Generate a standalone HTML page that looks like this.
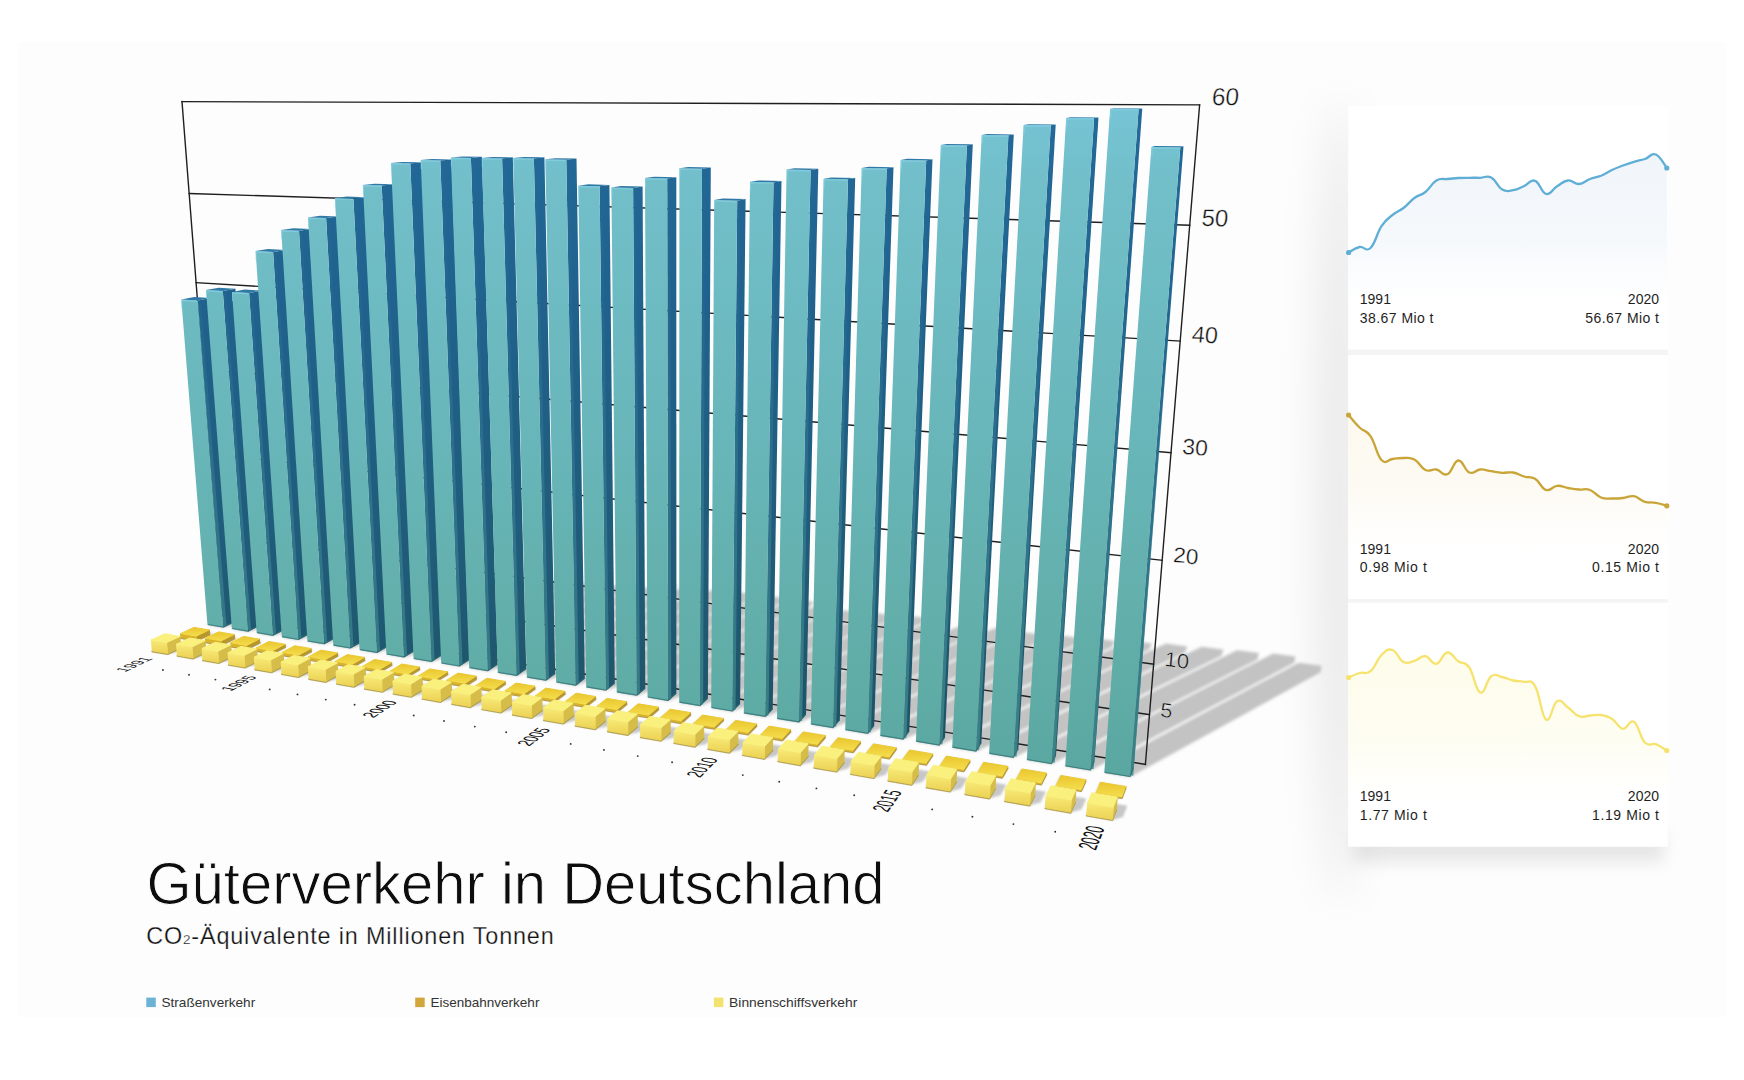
<!DOCTYPE html>
<html><head><meta charset="utf-8"><title>Güterverkehr in Deutschland</title>
<style>html,body{margin:0;padding:0;background:#fff}body{width:1744px;height:1080px;overflow:hidden;font-family:"Liberation Sans",sans-serif}svg{display:block;font-family:"Liberation Sans",sans-serif}</style>
</head><body>
<svg width="1744" height="1080" viewBox="0 0 1744 1080">
<defs>
<linearGradient id="gf" gradientUnits="userSpaceOnUse" x1="0" y1="100" x2="0" y2="780">
<stop offset="0" stop-color="#76c4d6"/><stop offset="0.12" stop-color="#72bfca"/><stop offset="0.5" stop-color="#68b6b9"/><stop offset="0.85" stop-color="#60aca6"/><stop offset="1" stop-color="#5aa6a0"/></linearGradient>
<linearGradient id="gs" gradientUnits="userSpaceOnUse" x1="0" y1="100" x2="0" y2="780">
<stop offset="0" stop-color="#23699a"/><stop offset="0.3" stop-color="#20628d"/><stop offset="0.65" stop-color="#205c7a"/><stop offset="0.85" stop-color="#1f566c"/><stop offset="1" stop-color="#1d5062"/></linearGradient>
<filter id="bl" x="-5%" y="-5%" width="110%" height="110%"><feGaussianBlur stdDeviation="1.6"/></filter>
<filter id="bl2" x="-20%" y="-20%" width="140%" height="140%"><feGaussianBlur stdDeviation="1.2"/></filter>
<filter id="cs" x="-10%" y="-10%" width="120%" height="120%"><feGaussianBlur stdDeviation="5"/></filter>
<filter id="cs3" x="-10%" y="-60%" width="120%" height="220%"><feGaussianBlur stdDeviation="8"/></filter>
<filter id="cs2" filterUnits="userSpaceOnUse" x="1180" y="0" width="320" height="1080"><feGaussianBlur stdDeviation="20"/></filter>
<linearGradient id="ge" gradientUnits="userSpaceOnUse" x1="0" y1="100" x2="0" y2="780">
<stop offset="0" stop-color="#3f8fb0" stop-opacity="0"/><stop offset="0.3" stop-color="#3f8fb0" stop-opacity="0.08"/><stop offset="0.6" stop-color="#3f8c9c" stop-opacity="0.45"/><stop offset="1" stop-color="#418c8c" stop-opacity="0.85"/></linearGradient>
<radialGradient id="bg" gradientUnits="userSpaceOnUse" cx="700" cy="520" r="900">
<stop offset="0" stop-color="#ffffff"/><stop offset="0.6" stop-color="#fdfdfd"/><stop offset="0.85" stop-color="#f6f6f6"/><stop offset="1" stop-color="#f0f0f0"/></radialGradient>
<linearGradient id="a1" x1="0" y1="0" x2="0" y2="1"><stop offset="0" stop-color="#f0f5fa"/><stop offset="0.6" stop-color="#f6f9fc"/><stop offset="1" stop-color="#ffffff"/></linearGradient>
<linearGradient id="a2" x1="0" y1="0" x2="0" y2="1"><stop offset="0" stop-color="#fdf9ef"/><stop offset="0.5" stop-color="#fdfaf3"/><stop offset="1" stop-color="#ffffff"/></linearGradient>
<linearGradient id="a3" x1="0" y1="0" x2="0" y2="1"><stop offset="0" stop-color="#fefcea"/><stop offset="0.6" stop-color="#fefdf2"/><stop offset="1" stop-color="#ffffff"/></linearGradient>
<linearGradient id="yb" x1="0" y1="0" x2="0" y2="1"><stop offset="0" stop-color="#f8ea78"/><stop offset="1" stop-color="#ecd254"/></linearGradient>
<linearGradient id="yt" x1="0" y1="0" x2="0" y2="1"><stop offset="0" stop-color="#e9c62f"/><stop offset="1" stop-color="#f5dd4c"/></linearGradient>
</defs>
<rect x="0" y="0" width="1744" height="1080" fill="#ffffff"/>
<rect x="17" y="42" width="1710" height="975" fill="#fdfdfd"/>
<ellipse cx="1340" cy="500" rx="24" ry="400" fill="#000" fill-opacity="0.08" filter="url(#cs2)"/>
<rect x="1354" y="832" width="310" height="30" fill="#000" fill-opacity="0.09" filter="url(#cs3)"/>
<rect x="1348.2" y="105.5" width="319.6" height="741" fill="#f4f4f4"/>
<g filter="url(#bl)"><polygon points="207.5,625.0 223.3,627.6 408.4,580.3 417.5,575.6 402.3,573.4 219.4,619.5" fill="#c3c3c3"/><polygon points="231.9,629.0 247.9,631.7 437.6,582.2 446.5,577.5 431.1,575.4 243.7,623.4" fill="#c3c3c3"/><polygon points="256.7,633.1 272.9,635.8 461.6,585.7 470.3,580.9 454.7,578.7 268.3,627.4" fill="#c3c3c3"/><polygon points="281.8,637.2 298.3,640.0 505.7,583.8 514.0,579.1 498.3,576.9 293.3,631.5" fill="#c3c3c3"/><polygon points="307.4,641.5 324.1,644.2 540.4,584.5 548.4,579.8 532.5,577.6 318.6,635.6" fill="#c3c3c3"/><polygon points="333.3,645.7 350.3,648.5 571.3,586.3 579.0,581.5 562.9,579.3 344.4,639.8" fill="#c3c3c3"/><polygon points="359.6,650.1 376.9,652.9 605.2,587.3 612.6,582.5 596.3,580.3 370.5,644.0" fill="#c3c3c3"/><polygon points="386.4,654.5 403.9,657.4 636.5,589.2 643.7,584.3 627.2,582.1 397.1,648.3" fill="#c3c3c3"/><polygon points="413.6,659.0 431.4,661.9 671.4,590.0 678.3,585.1 661.6,582.9 424.1,652.7" fill="#c3c3c3"/><polygon points="441.2,663.5 459.3,666.5 699.0,593.1 705.7,588.2 688.8,585.9 451.5,657.2" fill="#c3c3c3"/><polygon points="469.2,668.1 487.7,671.2 726.8,596.3 733.2,591.3 716.1,589.0 479.3,661.7" fill="#c3c3c3"/><polygon points="497.8,672.8 516.5,675.9 753.8,599.9 760.0,594.8 742.6,592.5 507.6,666.3" fill="#c3c3c3"/><polygon points="526.8,677.6 545.8,680.7 781.4,603.5 787.4,598.4 769.7,596.0 536.4,671.0" fill="#c3c3c3"/><polygon points="556.2,682.5 575.6,685.7 808.9,607.3 814.6,602.1 796.8,599.7 565.6,675.7" fill="#c3c3c3"/><polygon points="586.2,687.4 605.9,690.6 827.9,614.2 833.5,608.9 815.3,606.5 595.3,680.5" fill="#c3c3c3"/><polygon points="616.7,692.4 636.7,695.7 856.2,618.3 861.6,612.8 843.2,610.3 625.5,685.4" fill="#c3c3c3"/><polygon points="647.6,697.5 668.0,700.9 888.9,620.9 894.0,615.4 875.3,612.9 656.2,690.4" fill="#c3c3c3"/><polygon points="679.2,702.7 699.9,706.1 921.9,623.6 926.7,618.1 907.7,615.5 687.4,695.5" fill="#c3c3c3"/><polygon points="711.2,708.0 732.3,711.5 941.6,631.5 946.3,625.8 927.0,623.2 719.2,700.7" fill="#c3c3c3"/><polygon points="743.8,713.4 765.3,716.9 978.3,633.2 982.7,627.5 963.1,624.9 751.5,705.9" fill="#c3c3c3"/><polygon points="777.0,718.9 798.9,722.4 1013.3,635.7 1017.3,629.9 997.4,627.3 784.4,711.3" fill="#c3c3c3"/><polygon points="810.8,724.4 833.0,728.1 1042.0,641.0 1045.8,635.1 1025.6,632.4 817.8,716.7" fill="#c3c3c3"/><polygon points="845.2,730.1 867.8,733.8 1077.3,643.8 1080.7,637.9 1060.2,635.2 851.9,722.2" fill="#c3c3c3"/><polygon points="880.2,735.9 903.2,739.6 1112.0,647.1 1115.1,641.0 1094.4,638.3 886.5,727.9" fill="#c3c3c3"/><polygon points="915.9,741.7 939.3,745.6 1149.1,649.5 1151.8,643.4 1130.8,640.6 921.8,733.6" fill="#c3c3c3"/><polygon points="952.2,747.7 976.0,751.6 1185.1,652.6 1187.4,646.4 1166.1,643.6 957.7,739.4" fill="#c3c3c3"/><polygon points="989.1,753.8 1013.5,757.8 1221.4,655.8 1223.4,649.5 1201.7,646.7 994.3,745.4" fill="#c3c3c3"/><polygon points="1026.8,760.0 1051.6,764.1 1257.4,659.4 1258.9,653.1 1237.0,650.2 1031.5,751.4" fill="#c3c3c3"/><polygon points="1065.2,766.3 1090.5,770.5 1294.2,662.8 1295.4,656.4 1273.2,653.5 1069.5,757.6" fill="#c3c3c3"/><polygon points="1104.3,772.8 1130.1,777.0 1320.6,672.3 1321.6,665.7 1298.8,662.7 1108.1,763.9" fill="#c3c3c3"/></g>
<g filter="url(#bl2)"><polygon points="151.5,651.0 167.3,653.8 179.6,651.7 193.7,645.0 178.1,642.3 166.0,644.3" fill="#9a9a9a" fill-opacity="0.55"/><polygon points="180.1,637.7 195.7,640.3 199.7,639.7 213.4,633.2 198.0,630.6 194.0,631.3" fill="#9a9a9a" fill-opacity="0.55"/><polygon points="176.6,655.4 192.6,658.2 205.0,656.1 219.0,649.3 203.1,646.5 190.9,648.6" fill="#9a9a9a" fill-opacity="0.55"/><polygon points="204.9,641.9 220.7,644.6 224.3,644.0 237.8,637.4 222.1,634.8 218.5,635.4" fill="#9a9a9a" fill-opacity="0.55"/><polygon points="202.1,659.9 218.4,662.7 230.8,660.6 244.6,653.6 228.5,650.9 216.2,652.9" fill="#9a9a9a" fill-opacity="0.55"/><polygon points="230.0,646.2 246.1,648.9 249.3,648.4 262.6,641.7 246.7,639.0 243.5,639.6" fill="#9a9a9a" fill-opacity="0.55"/><polygon points="228.0,664.4 244.6,667.3 257.3,665.1 270.9,658.1 254.4,655.2 242.0,657.4" fill="#9a9a9a" fill-opacity="0.55"/><polygon points="255.5,650.5 271.8,653.3 274.2,652.9 287.3,646.1 271.2,643.4 268.8,643.8" fill="#9a9a9a" fill-opacity="0.55"/><polygon points="254.4,669.1 271.2,672.0 284.0,669.7 297.3,662.6 280.7,659.7 268.1,661.9" fill="#9a9a9a" fill-opacity="0.55"/><polygon points="281.5,654.9 298.0,657.8 300.4,657.3 313.3,650.5 296.9,647.7 294.6,648.1" fill="#9a9a9a" fill-opacity="0.55"/><polygon points="281.1,673.8 298.2,676.8 310.8,674.5 324.0,667.2 307.0,664.3 294.6,666.5" fill="#9a9a9a" fill-opacity="0.55"/><polygon points="307.8,659.4 324.6,662.3 327.1,661.8 339.8,654.9 323.1,652.1 320.7,652.5" fill="#9a9a9a" fill-opacity="0.55"/><polygon points="308.3,678.6 325.7,681.6 338.3,679.3 351.3,671.9 334.0,668.9 321.6,671.2" fill="#9a9a9a" fill-opacity="0.55"/><polygon points="334.6,664.0 351.7,666.9 354.1,666.4 366.5,659.4 349.6,656.5 347.3,656.9" fill="#9a9a9a" fill-opacity="0.55"/><polygon points="336.0,683.4 353.6,686.5 366.3,684.2 379.0,676.6 361.5,673.6 349.0,675.9" fill="#9a9a9a" fill-opacity="0.55"/><polygon points="361.8,668.6 379.1,671.6 381.1,671.2 393.4,664.0 376.2,661.1 374.2,661.5" fill="#9a9a9a" fill-opacity="0.55"/><polygon points="364.1,688.4 382.0,691.5 394.6,689.1 407.1,681.5 389.3,678.4 376.9,680.7" fill="#9a9a9a" fill-opacity="0.55"/><polygon points="389.4,673.3 407.1,676.3 409.1,675.9 421.1,668.6 403.6,665.7 401.6,666.0" fill="#9a9a9a" fill-opacity="0.55"/><polygon points="392.7,693.4 410.9,696.6 423.7,694.1 435.9,686.4 417.8,683.3 405.3,685.6" fill="#9a9a9a" fill-opacity="0.55"/><polygon points="417.5,678.1 435.5,681.1 437.3,680.8 449.1,673.3 431.3,670.4 429.5,670.7" fill="#9a9a9a" fill-opacity="0.55"/><polygon points="421.8,698.5 440.3,701.8 452.9,699.3 464.9,691.4 446.5,688.2 434.1,690.6" fill="#9a9a9a" fill-opacity="0.55"/><polygon points="446.1,682.9 464.3,686.0 466.7,685.6 478.2,678.0 460.1,675.0 457.8,675.4" fill="#9a9a9a" fill-opacity="0.55"/><polygon points="451.3,703.7 470.2,707.0 482.7,704.5 494.4,696.5 475.7,693.3 463.4,695.7" fill="#9a9a9a" fill-opacity="0.55"/><polygon points="475.1,687.9 493.7,691.0 495.6,690.7 506.8,683.0 488.4,679.9 486.6,680.3" fill="#9a9a9a" fill-opacity="0.55"/><polygon points="481.4,709.0 500.6,712.4 512.7,709.9 524.1,701.8 505.0,698.5 493.2,700.8" fill="#9a9a9a" fill-opacity="0.55"/><polygon points="504.7,692.9 523.5,696.1 525.5,695.7 536.5,687.9 517.8,684.8 515.8,685.2" fill="#9a9a9a" fill-opacity="0.55"/><polygon points="512.0,714.4 531.6,717.8 543.9,715.3 555.0,707.0 535.6,703.6 523.5,706.1" fill="#9a9a9a" fill-opacity="0.55"/><polygon points="534.7,698.0 553.9,701.3 555.8,700.9 566.5,692.9 547.5,689.8 545.6,690.1" fill="#9a9a9a" fill-opacity="0.55"/><polygon points="543.2,719.9 563.1,723.4 575.4,720.8 586.1,712.3 566.4,708.9 554.3,711.4" fill="#9a9a9a" fill-opacity="0.55"/><polygon points="565.2,703.2 584.7,706.5 586.6,706.1 597.0,698.1 577.7,694.8 575.8,695.2" fill="#9a9a9a" fill-opacity="0.55"/><polygon points="574.9,725.4 595.1,729.0 607.3,726.4 617.8,717.8 597.7,714.3 585.7,716.9" fill="#9a9a9a" fill-opacity="0.55"/><polygon points="596.3,708.5 616.2,711.9 618.0,711.5 628.1,703.3 608.5,700.0 606.6,700.4" fill="#9a9a9a" fill-opacity="0.55"/><polygon points="607.1,731.1 627.8,734.7 639.9,732.1 650.0,723.3 629.6,719.8 617.7,722.4" fill="#9a9a9a" fill-opacity="0.55"/><polygon points="627.9,713.9 648.1,717.3 649.8,716.9 659.6,708.6 639.6,705.2 637.9,705.6" fill="#9a9a9a" fill-opacity="0.55"/><polygon points="640.0,736.9 661.0,740.6 673.1,737.9 682.8,729.0 662.1,725.4 650.2,728.0" fill="#9a9a9a" fill-opacity="0.55"/><polygon points="660.1,719.4 680.6,722.9 682.3,722.5 691.7,714.0 671.4,710.6 669.7,710.9" fill="#9a9a9a" fill-opacity="0.55"/><polygon points="673.4,742.8 694.8,746.5 706.3,743.9 715.7,734.8 694.6,731.2 683.3,733.7" fill="#9a9a9a" fill-opacity="0.55"/><polygon points="692.8,724.9 713.7,728.5 715.0,728.2 724.0,719.6 703.3,716.1 702.1,716.4" fill="#9a9a9a" fill-opacity="0.55"/><polygon points="707.5,748.8 729.3,752.6 741.0,749.8 750.1,740.6 728.5,736.9 716.9,739.6" fill="#9a9a9a" fill-opacity="0.55"/><polygon points="726.1,730.6 747.5,734.2 748.8,733.9 757.5,725.1 736.5,721.6 735.1,721.9" fill="#9a9a9a" fill-opacity="0.55"/><polygon points="742.2,754.9 764.4,758.8 776.0,756.0 784.6,746.6 762.7,742.8 751.3,745.5" fill="#9a9a9a" fill-opacity="0.55"/><polygon points="760.1,736.4 781.8,740.1 783.0,739.8 791.4,730.8 769.9,727.2 768.7,727.5" fill="#9a9a9a" fill-opacity="0.55"/><polygon points="777.5,761.1 800.1,765.0 811.6,762.3 819.8,752.7 797.5,748.9 786.2,751.5" fill="#9a9a9a" fill-opacity="0.55"/><polygon points="794.6,742.2 816.7,746.0 817.9,745.7 825.9,736.6 804.0,732.9 802.8,733.2" fill="#9a9a9a" fill-opacity="0.55"/><polygon points="813.5,767.4 836.6,771.5 848.0,768.6 855.8,758.9 833.1,755.0 821.8,757.7" fill="#9a9a9a" fill-opacity="0.55"/><polygon points="829.8,748.2 852.3,752.1 853.5,751.8 861.0,742.5 838.8,738.8 837.6,739.0" fill="#9a9a9a" fill-opacity="0.55"/><polygon points="850.2,773.9 873.7,778.0 885.1,775.1 892.5,765.2 869.3,761.2 858.1,764.0" fill="#9a9a9a" fill-opacity="0.55"/><polygon points="865.6,754.3 888.6,758.2 889.5,758.0 896.6,748.5 873.9,744.7 873.0,745.0" fill="#9a9a9a" fill-opacity="0.55"/><polygon points="887.7,780.4 911.6,784.6 922.9,781.7 929.8,771.6 906.1,767.5 895.0,770.3" fill="#9a9a9a" fill-opacity="0.55"/><polygon points="902.2,760.5 925.5,764.5 926.4,764.3 933.0,754.7 910.0,750.8 909.1,751.0" fill="#9a9a9a" fill-opacity="0.55"/><polygon points="925.8,787.1 950.2,791.4 961.3,788.5 967.7,778.2 943.6,774.0 932.7,776.9" fill="#9a9a9a" fill-opacity="0.55"/><polygon points="939.4,766.9 963.2,770.9 964.0,770.7 970.2,760.9 946.7,756.9 945.8,757.2" fill="#9a9a9a" fill-opacity="0.55"/><polygon points="964.7,794.0 989.6,798.4 1000.7,795.3 1006.6,784.8 982.1,780.6 971.1,783.5" fill="#9a9a9a" fill-opacity="0.55"/><polygon points="977.3,773.3 1001.5,777.4 1002.5,777.2 1008.2,767.2 984.2,763.2 983.3,763.4" fill="#9a9a9a" fill-opacity="0.55"/><polygon points="1004.3,801.0 1029.7,805.4 1040.5,802.4 1045.9,791.7 1020.8,787.4 1010.2,790.3" fill="#9a9a9a" fill-opacity="0.55"/><polygon points="1015.9,779.9 1040.6,784.1 1041.4,783.9 1046.6,773.7 1022.2,769.6 1021.4,769.8" fill="#9a9a9a" fill-opacity="0.55"/><polygon points="1044.8,808.1 1070.7,812.6 1081.4,809.6 1086.2,798.6 1060.7,794.3 1050.1,797.2" fill="#9a9a9a" fill-opacity="0.55"/><polygon points="1055.3,786.6 1080.5,790.9 1081.2,790.7 1085.9,780.3 1061.0,776.1 1060.3,776.3" fill="#9a9a9a" fill-opacity="0.55"/><polygon points="1086.1,815.3 1112.5,820.0 1123.0,816.9 1127.3,805.7 1101.2,801.3 1090.8,804.2" fill="#9a9a9a" fill-opacity="0.55"/><polygon points="1095.5,793.4 1121.2,797.8 1121.8,797.6 1125.9,787.0 1100.5,782.8 1100.0,783.0" fill="#9a9a9a" fill-opacity="0.55"/></g>
<g stroke="#1f1f1f" stroke-width="1.4" stroke-linecap="square"><line x1="182.0" y1="101.6" x2="1199.6" y2="104.9"/><line x1="189.2" y1="193.5" x2="1189.7" y2="225.2"/><line x1="196.1" y1="282.7" x2="1180.2" y2="341.1"/><line x1="202.9" y1="369.5" x2="1171.0" y2="452.7"/><line x1="209.4" y1="453.8" x2="1162.2" y2="560.3"/><line x1="215.8" y1="535.8" x2="1153.6" y2="664.2"/><line x1="219.0" y1="576.0" x2="1149.5" y2="714.7"/><line x1="222.0" y1="615.6" x2="1145.4" y2="764.4"/><line x1="182.0" y1="101.6" x2="222.0" y2="615.6"/><line x1="1199.6" y1="104.9" x2="1145.4" y2="764.4"/></g>
<polygon points="223.3,627.6 235.1,622.0 210.6,298.1 197.8,300.5" fill="url(#gs)"/>
<polygon points="207.5,625.0 223.3,627.6 197.8,300.5 181.3,299.5" fill="url(#gf)"/>
<line x1="199.4" y1="302.5" x2="224.9" y2="626.1" stroke="url(#ge)" stroke-width="3.2"/>
<polygon points="181.3,299.5 197.8,300.5 210.6,298.1 194.1,297.1" fill="#2f79a6"/>
<polyline points="181.8,308.5 181.9,300.4 197.3,301.4" fill="none" stroke="#8ad6ec" stroke-width="1.1" stroke-opacity="0.6"/>
<polyline points="208.0,624.5 223.3,627.1 234.8,621.5" fill="none" stroke="#2f6f72" stroke-width="1.2" stroke-opacity="0.7" stroke-linejoin="round"/>
<polygon points="247.9,631.7 259.6,626.0 235.4,288.7 222.8,291.0" fill="url(#gs)"/>
<polygon points="231.9,629.0 247.9,631.7 222.8,291.0 206.0,290.0" fill="url(#gf)"/>
<line x1="224.4" y1="293.0" x2="249.5" y2="630.2" stroke="url(#ge)" stroke-width="3.2"/>
<polygon points="206.0,290.0 222.8,291.0 235.4,288.7 218.7,287.7" fill="#2f79a6"/>
<polyline points="206.5,299.0 206.6,290.9 222.3,291.9" fill="none" stroke="#8ad6ec" stroke-width="1.1" stroke-opacity="0.6"/>
<polyline points="232.4,628.5 247.9,631.2 259.3,625.5" fill="none" stroke="#2f6f72" stroke-width="1.2" stroke-opacity="0.7" stroke-linejoin="round"/>
<polygon points="272.9,635.8 284.4,630.0 261.5,290.6 249.1,293.0" fill="url(#gs)"/>
<polygon points="256.7,633.1 272.9,635.8 249.1,293.0 232.0,292.0" fill="url(#gf)"/>
<line x1="250.7" y1="295.0" x2="274.5" y2="634.3" stroke="url(#ge)" stroke-width="3.2"/>
<polygon points="232.0,292.0 249.1,293.0 261.5,290.6 244.6,289.6" fill="#2f79a6"/>
<polyline points="232.5,301.0 232.6,292.9 248.6,293.9" fill="none" stroke="#8ad6ec" stroke-width="1.1" stroke-opacity="0.6"/>
<polyline points="257.2,632.6 272.9,635.3 284.1,629.5" fill="none" stroke="#2f6f72" stroke-width="1.2" stroke-opacity="0.7" stroke-linejoin="round"/>
<polygon points="298.3,640.0 309.6,634.1 285.4,249.9 273.1,251.9" fill="url(#gs)"/>
<polygon points="281.8,637.2 298.3,640.0 273.1,251.9 255.6,251.0" fill="url(#gf)"/>
<line x1="274.7" y1="253.9" x2="299.9" y2="638.5" stroke="url(#ge)" stroke-width="3.2"/>
<polygon points="255.6,251.0 273.1,251.9 285.4,249.9 268.1,249.1" fill="#2f79a6"/>
<polyline points="256.1,260.0 256.2,251.9 272.6,252.8" fill="none" stroke="#8ad6ec" stroke-width="1.1" stroke-opacity="0.6"/>
<polyline points="282.3,636.7 298.3,639.5 309.3,633.6" fill="none" stroke="#2f6f72" stroke-width="1.2" stroke-opacity="0.7" stroke-linejoin="round"/>
<polygon points="324.1,644.2 335.3,638.3 311.2,228.9 299.0,230.7" fill="url(#gs)"/>
<polygon points="307.4,641.5 324.1,644.2 299.0,230.7 281.2,230.0" fill="url(#gf)"/>
<line x1="300.6" y1="232.7" x2="325.7" y2="642.7" stroke="url(#ge)" stroke-width="3.2"/>
<polygon points="281.2,230.0 299.0,230.7 311.2,228.9 293.5,228.2" fill="#2f79a6"/>
<polyline points="281.7,239.0 281.8,230.9 298.5,231.6" fill="none" stroke="#8ad6ec" stroke-width="1.1" stroke-opacity="0.6"/>
<polyline points="307.9,641.0 324.1,643.7 335.0,637.8" fill="none" stroke="#2f6f72" stroke-width="1.2" stroke-opacity="0.7" stroke-linejoin="round"/>
<polygon points="350.3,648.5 361.3,642.5 338.1,216.5 326.1,218.1" fill="url(#gs)"/>
<polygon points="333.3,645.7 350.3,648.5 326.1,218.1 308.0,217.5" fill="url(#gf)"/>
<line x1="327.7" y1="220.1" x2="351.9" y2="647.0" stroke="url(#ge)" stroke-width="3.2"/>
<polygon points="308.0,217.5 326.1,218.1 338.1,216.5 320.1,215.8" fill="#2f79a6"/>
<polyline points="308.5,226.5 308.6,218.4 325.6,219.0" fill="none" stroke="#8ad6ec" stroke-width="1.1" stroke-opacity="0.6"/>
<polyline points="333.8,645.2 350.3,648.0 361.0,642.0" fill="none" stroke="#2f6f72" stroke-width="1.2" stroke-opacity="0.7" stroke-linejoin="round"/>
<polygon points="376.9,652.9 387.7,646.8 365.3,197.2 353.4,198.6" fill="url(#gs)"/>
<polygon points="359.6,650.1 376.9,652.9 353.4,198.6 334.9,198.0" fill="url(#gf)"/>
<line x1="355.0" y1="200.6" x2="378.5" y2="651.4" stroke="url(#ge)" stroke-width="3.2"/>
<polygon points="334.9,198.0 353.4,198.6 365.3,197.2 346.9,196.6" fill="#2f79a6"/>
<polyline points="335.4,207.0 335.5,198.9 352.9,199.5" fill="none" stroke="#8ad6ec" stroke-width="1.1" stroke-opacity="0.6"/>
<polyline points="360.1,649.6 376.9,652.4 387.4,646.3" fill="none" stroke="#2f6f72" stroke-width="1.2" stroke-opacity="0.7" stroke-linejoin="round"/>
<polygon points="403.9,657.4 414.5,651.2 393.4,184.2 381.7,185.5" fill="url(#gs)"/>
<polygon points="386.4,654.5 403.9,657.4 381.7,185.5 362.9,185.0" fill="url(#gf)"/>
<line x1="383.3" y1="187.5" x2="405.5" y2="655.9" stroke="url(#ge)" stroke-width="3.2"/>
<polygon points="362.9,185.0 381.7,185.5 393.4,184.2 374.7,183.7" fill="#2f79a6"/>
<polyline points="363.4,194.0 363.5,185.9 381.2,186.4" fill="none" stroke="#8ad6ec" stroke-width="1.1" stroke-opacity="0.6"/>
<polyline points="386.9,654.0 403.9,656.9 414.2,650.7" fill="none" stroke="#2f6f72" stroke-width="1.2" stroke-opacity="0.7" stroke-linejoin="round"/>
<polygon points="431.4,661.9 441.8,655.6 421.8,162.3 410.3,163.4" fill="url(#gs)"/>
<polygon points="413.6,659.0 431.4,661.9 410.3,163.4 391.0,163.0" fill="url(#gf)"/>
<line x1="411.9" y1="165.4" x2="433.0" y2="660.4" stroke="url(#ge)" stroke-width="3.2"/>
<polygon points="391.0,163.0 410.3,163.4 421.8,162.3 402.7,161.9" fill="#2f79a6"/>
<polyline points="391.5,172.0 391.6,163.9 409.8,164.3" fill="none" stroke="#8ad6ec" stroke-width="1.1" stroke-opacity="0.6"/>
<polyline points="414.1,658.5 431.4,661.4 441.5,655.1" fill="none" stroke="#2f6f72" stroke-width="1.2" stroke-opacity="0.7" stroke-linejoin="round"/>
<polygon points="459.3,666.5 469.5,660.1 451.5,159.4 440.3,160.4" fill="url(#gs)"/>
<polygon points="441.2,663.5 459.3,666.5 440.3,160.4 420.7,160.0" fill="url(#gf)"/>
<line x1="441.9" y1="162.4" x2="460.9" y2="665.0" stroke="url(#ge)" stroke-width="3.2"/>
<polygon points="420.7,160.0 440.3,160.4 451.5,159.4 432.1,159.0" fill="#2f79a6"/>
<polyline points="421.2,169.0 421.3,160.9 439.8,161.3" fill="none" stroke="#8ad6ec" stroke-width="1.1" stroke-opacity="0.6"/>
<polyline points="441.7,663.0 459.3,666.0 469.2,659.6" fill="none" stroke="#2f6f72" stroke-width="1.2" stroke-opacity="0.7" stroke-linejoin="round"/>
<polygon points="487.7,671.2 497.6,664.7 481.9,156.8 470.9,157.9" fill="url(#gs)"/>
<polygon points="469.2,668.1 487.7,671.2 470.9,157.9 450.9,157.5" fill="url(#gf)"/>
<line x1="472.5" y1="159.9" x2="489.3" y2="669.7" stroke="url(#ge)" stroke-width="3.2"/>
<polygon points="450.9,157.5 470.9,157.9 481.9,156.8 462.1,156.5" fill="#2f79a6"/>
<polyline points="451.4,166.5 451.5,158.4 470.4,158.8" fill="none" stroke="#8ad6ec" stroke-width="1.1" stroke-opacity="0.6"/>
<polyline points="469.7,667.6 487.7,670.7 497.3,664.2" fill="none" stroke="#2f6f72" stroke-width="1.2" stroke-opacity="0.7" stroke-linejoin="round"/>
<polygon points="516.5,675.9 526.2,669.3 512.8,157.3 502.1,158.4" fill="url(#gs)"/>
<polygon points="497.8,672.8 516.5,675.9 502.1,158.4 481.8,158.0" fill="url(#gf)"/>
<line x1="503.7" y1="160.4" x2="518.1" y2="674.4" stroke="url(#ge)" stroke-width="3.2"/>
<polygon points="481.8,158.0 502.1,158.4 512.8,157.3 492.7,156.9" fill="#2f79a6"/>
<polyline points="482.3,167.0 482.4,158.9 501.6,159.3" fill="none" stroke="#8ad6ec" stroke-width="1.1" stroke-opacity="0.6"/>
<polyline points="498.3,672.3 516.5,675.4 525.9,668.8" fill="none" stroke="#2f6f72" stroke-width="1.2" stroke-opacity="0.7" stroke-linejoin="round"/>
<polygon points="545.8,680.7 555.2,674.0 544.4,157.3 533.9,158.4" fill="url(#gs)"/>
<polygon points="526.8,677.6 545.8,680.7 533.9,158.4 513.2,158.0" fill="url(#gf)"/>
<line x1="535.5" y1="160.4" x2="547.4" y2="679.2" stroke="url(#ge)" stroke-width="3.2"/>
<polygon points="513.2,158.0 533.9,158.4 544.4,157.3 523.9,156.9" fill="#2f79a6"/>
<polyline points="513.7,167.0 513.8,158.9 533.4,159.3" fill="none" stroke="#8ad6ec" stroke-width="1.1" stroke-opacity="0.6"/>
<polyline points="527.3,677.1 545.8,680.2 554.9,673.5" fill="none" stroke="#2f6f72" stroke-width="1.2" stroke-opacity="0.7" stroke-linejoin="round"/>
<polygon points="575.6,685.7 584.8,678.8 576.5,158.6 566.3,159.7" fill="url(#gs)"/>
<polygon points="556.2,682.5 575.6,685.7 566.3,159.7 545.3,159.3" fill="url(#gf)"/>
<line x1="567.9" y1="161.7" x2="577.2" y2="684.2" stroke="url(#ge)" stroke-width="3.2"/>
<polygon points="545.3,159.3 566.3,159.7 576.5,158.6 555.6,158.2" fill="#2f79a6"/>
<polyline points="545.8,168.3 545.9,160.2 565.8,160.6" fill="none" stroke="#8ad6ec" stroke-width="1.1" stroke-opacity="0.6"/>
<polyline points="556.7,682.0 575.6,685.2 584.5,678.3" fill="none" stroke="#2f6f72" stroke-width="1.2" stroke-opacity="0.7" stroke-linejoin="round"/>
<polygon points="605.9,690.6 614.8,683.7 609.4,184.9 599.6,186.3" fill="url(#gs)"/>
<polygon points="586.2,687.4 605.9,690.6 599.6,186.3 578.3,185.7" fill="url(#gf)"/>
<line x1="601.2" y1="188.3" x2="607.5" y2="689.1" stroke="url(#ge)" stroke-width="3.2"/>
<polygon points="578.3,185.7 599.6,186.3 609.4,184.9 588.3,184.3" fill="#2f79a6"/>
<polyline points="578.8,194.7 578.9,186.6 599.1,187.2" fill="none" stroke="#8ad6ec" stroke-width="1.1" stroke-opacity="0.6"/>
<polyline points="586.7,686.9 605.9,690.1 614.5,683.2" fill="none" stroke="#2f6f72" stroke-width="1.2" stroke-opacity="0.7" stroke-linejoin="round"/>
<polygon points="636.7,695.7 645.3,688.7 642.6,186.6 633.1,188.1" fill="url(#gs)"/>
<polygon points="616.7,692.4 636.7,695.7 633.1,188.1 611.4,187.5" fill="url(#gf)"/>
<line x1="634.7" y1="190.1" x2="638.3" y2="694.2" stroke="url(#ge)" stroke-width="3.2"/>
<polygon points="611.4,187.5 633.1,188.1 642.6,186.6 621.0,186.1" fill="#2f79a6"/>
<polyline points="611.9,196.5 612.0,188.4 632.6,189.0" fill="none" stroke="#8ad6ec" stroke-width="1.1" stroke-opacity="0.6"/>
<polyline points="617.2,691.9 636.7,695.2 645.0,688.2" fill="none" stroke="#2f6f72" stroke-width="1.2" stroke-opacity="0.7" stroke-linejoin="round"/>
<polygon points="668.0,700.9 676.4,693.7 676.3,177.2 667.2,178.5" fill="url(#gs)"/>
<polygon points="647.6,697.5 668.0,700.9 667.2,178.5 645.0,178.0" fill="url(#gf)"/>
<line x1="668.8" y1="180.5" x2="669.6" y2="699.4" stroke="url(#ge)" stroke-width="3.2"/>
<polygon points="645.0,178.0 667.2,178.5 676.3,177.2 654.3,176.7" fill="#2f79a6"/>
<polyline points="645.5,187.0 645.6,178.9 666.7,179.4" fill="none" stroke="#8ad6ec" stroke-width="1.1" stroke-opacity="0.6"/>
<polyline points="648.1,697.0 668.0,700.4 676.1,693.2" fill="none" stroke="#2f6f72" stroke-width="1.2" stroke-opacity="0.7" stroke-linejoin="round"/>
<polygon points="699.9,706.1 707.9,698.8 710.8,167.5 702.0,168.8" fill="url(#gs)"/>
<polygon points="679.2,702.7 699.9,706.1 702.0,168.8 679.4,168.3" fill="url(#gf)"/>
<line x1="703.6" y1="170.8" x2="701.5" y2="704.6" stroke="url(#ge)" stroke-width="3.2"/>
<polygon points="679.4,168.3 702.0,168.8 710.8,167.5 688.4,167.1" fill="#2f79a6"/>
<polyline points="679.9,177.3 680.0,169.2 701.5,169.7" fill="none" stroke="#8ad6ec" stroke-width="1.1" stroke-opacity="0.6"/>
<polyline points="679.7,702.2 699.9,705.6 707.6,698.3" fill="none" stroke="#2f6f72" stroke-width="1.2" stroke-opacity="0.7" stroke-linejoin="round"/>
<polygon points="732.3,711.5 740.1,704.1 745.6,199.1 737.2,200.7" fill="url(#gs)"/>
<polygon points="711.2,708.0 732.3,711.5 737.2,200.7 714.2,200.0" fill="url(#gf)"/>
<line x1="738.8" y1="202.7" x2="733.9" y2="710.0" stroke="url(#ge)" stroke-width="3.2"/>
<polygon points="714.2,200.0 737.2,200.7 745.6,199.1 722.9,198.4" fill="#2f79a6"/>
<polyline points="714.7,209.0 714.8,200.9 736.7,201.6" fill="none" stroke="#8ad6ec" stroke-width="1.1" stroke-opacity="0.6"/>
<polyline points="711.7,707.5 732.3,711.0 739.8,703.6" fill="none" stroke="#2f6f72" stroke-width="1.2" stroke-opacity="0.7" stroke-linejoin="round"/>
<polygon points="765.3,716.9 772.7,709.4 781.5,180.9 773.5,182.4" fill="url(#gs)"/>
<polygon points="743.8,713.4 765.3,716.9 773.5,182.4 750.0,181.8" fill="url(#gf)"/>
<line x1="775.1" y1="184.4" x2="766.9" y2="715.4" stroke="url(#ge)" stroke-width="3.2"/>
<polygon points="750.0,181.8 773.5,182.4 781.5,180.9 758.3,180.4" fill="#2f79a6"/>
<polyline points="750.5,190.8 750.6,182.7 773.0,183.3" fill="none" stroke="#8ad6ec" stroke-width="1.1" stroke-opacity="0.6"/>
<polyline points="744.3,712.9 765.3,716.4 772.4,708.9" fill="none" stroke="#2f6f72" stroke-width="1.2" stroke-opacity="0.7" stroke-linejoin="round"/>
<polygon points="798.9,722.4 806.0,714.8 818.3,168.7 810.6,170.0" fill="url(#gs)"/>
<polygon points="777.0,718.9 798.9,722.4 810.6,170.0 786.6,169.5" fill="url(#gf)"/>
<line x1="812.2" y1="172.0" x2="800.5" y2="720.9" stroke="url(#ge)" stroke-width="3.2"/>
<polygon points="786.6,169.5 810.6,170.0 818.3,168.7 794.5,168.2" fill="#2f79a6"/>
<polyline points="787.1,178.5 787.2,170.4 810.1,170.9" fill="none" stroke="#8ad6ec" stroke-width="1.1" stroke-opacity="0.6"/>
<polyline points="777.5,718.4 798.9,721.9 805.7,714.3" fill="none" stroke="#2f6f72" stroke-width="1.2" stroke-opacity="0.7" stroke-linejoin="round"/>
<polygon points="833.0,728.1 839.8,720.3 855.2,177.9 848.0,179.3" fill="url(#gs)"/>
<polygon points="810.8,724.4 833.0,728.1 848.0,179.3 823.6,178.8" fill="url(#gf)"/>
<line x1="849.6" y1="181.3" x2="834.6" y2="726.6" stroke="url(#ge)" stroke-width="3.2"/>
<polygon points="823.6,178.8 848.0,179.3 855.2,177.9 831.1,177.4" fill="#2f79a6"/>
<polyline points="824.1,187.8 824.2,179.7 847.5,180.2" fill="none" stroke="#8ad6ec" stroke-width="1.1" stroke-opacity="0.6"/>
<polyline points="811.3,723.9 833.0,727.6 839.5,719.8" fill="none" stroke="#2f6f72" stroke-width="1.2" stroke-opacity="0.7" stroke-linejoin="round"/>
<polygon points="867.8,733.8 874.2,725.9 893.5,167.2 886.7,168.5" fill="url(#gs)"/>
<polygon points="845.2,730.1 867.8,733.8 886.7,168.5 861.7,168.0" fill="url(#gf)"/>
<line x1="888.3" y1="170.5" x2="869.4" y2="732.3" stroke="url(#ge)" stroke-width="3.2"/>
<polygon points="861.7,168.0 886.7,168.5 893.5,167.2 868.8,166.7" fill="#2f79a6"/>
<polyline points="862.2,177.0 862.3,168.9 886.2,169.4" fill="none" stroke="#8ad6ec" stroke-width="1.1" stroke-opacity="0.6"/>
<polyline points="845.7,729.6 867.8,733.3 873.9,725.4" fill="none" stroke="#2f6f72" stroke-width="1.2" stroke-opacity="0.7" stroke-linejoin="round"/>
<polygon points="903.2,739.6 909.3,731.6 932.5,159.2 926.2,160.4" fill="url(#gs)"/>
<polygon points="880.2,735.9 903.2,739.6 926.2,160.4 900.7,160.0" fill="url(#gf)"/>
<line x1="927.8" y1="162.4" x2="904.8" y2="738.1" stroke="url(#ge)" stroke-width="3.2"/>
<polygon points="900.7,160.0 926.2,160.4 932.5,159.2 907.3,158.8" fill="#2f79a6"/>
<polyline points="901.2,169.0 901.3,160.9 925.7,161.3" fill="none" stroke="#8ad6ec" stroke-width="1.1" stroke-opacity="0.6"/>
<polyline points="880.7,735.4 903.2,739.1 909.0,731.1" fill="none" stroke="#2f6f72" stroke-width="1.2" stroke-opacity="0.7" stroke-linejoin="round"/>
<polygon points="939.3,745.6 945.0,737.4 972.8,144.3 966.9,145.4" fill="url(#gs)"/>
<polygon points="915.9,741.7 939.3,745.6 966.9,145.4 940.8,145.0" fill="url(#gf)"/>
<line x1="968.5" y1="147.4" x2="940.9" y2="744.1" stroke="url(#ge)" stroke-width="3.2"/>
<polygon points="940.8,145.0 966.9,145.4 972.8,144.3 947.0,144.0" fill="#2f79a6"/>
<polyline points="941.3,154.0 941.4,145.9 966.4,146.3" fill="none" stroke="#8ad6ec" stroke-width="1.1" stroke-opacity="0.6"/>
<polyline points="916.4,741.2 939.3,745.1 944.7,736.9" fill="none" stroke="#2f6f72" stroke-width="1.2" stroke-opacity="0.7" stroke-linejoin="round"/>
<polygon points="976.0,751.6 981.3,743.3 1013.8,134.4 1008.4,135.3" fill="url(#gs)"/>
<polygon points="952.2,747.7 976.0,751.6 1008.4,135.3 981.7,135.0" fill="url(#gf)"/>
<line x1="1010.0" y1="137.3" x2="977.6" y2="750.1" stroke="url(#ge)" stroke-width="3.2"/>
<polygon points="981.7,135.0 1008.4,135.3 1013.8,134.4 987.4,134.1" fill="#2f79a6"/>
<polyline points="982.2,144.0 982.3,135.9 1007.9,136.2" fill="none" stroke="#8ad6ec" stroke-width="1.1" stroke-opacity="0.6"/>
<polyline points="952.7,747.2 976.0,751.1 981.0,742.8" fill="none" stroke="#2f6f72" stroke-width="1.2" stroke-opacity="0.7" stroke-linejoin="round"/>
<polygon points="1013.5,757.8 1018.3,749.3 1055.7,124.4 1050.8,125.2" fill="url(#gs)"/>
<polygon points="989.1,753.8 1013.5,757.8 1050.8,125.2 1023.6,125.0" fill="url(#gf)"/>
<line x1="1052.4" y1="127.2" x2="1015.1" y2="756.3" stroke="url(#ge)" stroke-width="3.2"/>
<polygon points="1023.6,125.0 1050.8,125.2 1055.7,124.4 1028.8,124.2" fill="#2f79a6"/>
<polyline points="1024.1,134.0 1024.2,125.9 1050.3,126.1" fill="none" stroke="#8ad6ec" stroke-width="1.1" stroke-opacity="0.6"/>
<polyline points="989.6,753.3 1013.5,757.3 1018.0,748.8" fill="none" stroke="#2f6f72" stroke-width="1.2" stroke-opacity="0.7" stroke-linejoin="round"/>
<polygon points="1051.6,764.1 1056.0,755.4 1098.5,117.4 1094.1,118.1" fill="url(#gs)"/>
<polygon points="1026.8,760.0 1051.6,764.1 1094.1,118.1 1066.2,117.9" fill="url(#gf)"/>
<line x1="1095.7" y1="120.1" x2="1053.2" y2="762.6" stroke="url(#ge)" stroke-width="3.2"/>
<polygon points="1066.2,117.9 1094.1,118.1 1098.5,117.4 1070.9,117.3" fill="#2f79a6"/>
<polyline points="1066.7,126.9 1066.8,118.8 1093.6,119.0" fill="none" stroke="#8ad6ec" stroke-width="1.1" stroke-opacity="0.6"/>
<polyline points="1027.3,759.5 1051.6,763.6 1055.7,754.9" fill="none" stroke="#2f6f72" stroke-width="1.2" stroke-opacity="0.7" stroke-linejoin="round"/>
<polygon points="1090.5,770.5 1094.4,761.6 1142.3,108.4 1138.6,108.9" fill="url(#gs)"/>
<polygon points="1065.2,766.3 1090.5,770.5 1138.6,108.9 1110.1,108.8" fill="url(#gf)"/>
<line x1="1140.2" y1="110.9" x2="1092.1" y2="769.0" stroke="url(#ge)" stroke-width="3.2"/>
<polygon points="1110.1,108.8 1138.6,108.9 1142.3,108.4 1114.2,108.3" fill="#2f79a6"/>
<polyline points="1110.6,117.8 1110.7,109.7 1138.1,109.8" fill="none" stroke="#8ad6ec" stroke-width="1.1" stroke-opacity="0.6"/>
<polyline points="1065.7,765.8 1090.5,770.0 1094.1,761.1" fill="none" stroke="#2f6f72" stroke-width="1.2" stroke-opacity="0.7" stroke-linejoin="round"/>
<polygon points="1130.1,777.0 1133.6,768.0 1183.5,146.3 1180.3,147.4" fill="url(#gs)"/>
<polygon points="1104.3,772.8 1130.1,777.0 1180.3,147.4 1151.4,147.0" fill="url(#gf)"/>
<line x1="1181.9" y1="149.4" x2="1131.7" y2="775.5" stroke="url(#ge)" stroke-width="3.2"/>
<polygon points="1151.4,147.0 1180.3,147.4 1183.5,146.3 1154.9,145.9" fill="#2f79a6"/>
<polyline points="1151.9,156.0 1152.0,147.9 1179.8,148.3" fill="none" stroke="#8ad6ec" stroke-width="1.1" stroke-opacity="0.6"/>
<polyline points="1104.8,772.3 1130.1,776.5 1133.3,767.5" fill="none" stroke="#2f6f72" stroke-width="1.2" stroke-opacity="0.7" stroke-linejoin="round"/>
<polyline points="180.9,638.2 196.5,640.8 209.7,634.6" fill="none" stroke="#a88a24" stroke-width="1.8" stroke-linejoin="round" stroke-linecap="round" stroke-opacity="0.8"/><polygon points="196.5,640.1 209.7,633.9 209.3,629.9 196.2,636.1" fill="#b8962a" stroke="#b8962a" stroke-width="1.0" stroke-linejoin="round"/><polygon points="180.9,637.5 196.5,640.1 196.2,636.1 180.6,633.5" fill="#d9b32a" stroke="#d9b32a" stroke-width="1.0" stroke-linejoin="round"/><polygon points="180.6,633.5 196.2,636.1 209.3,629.9 193.9,627.4" fill="url(#yt)" stroke="url(#yt)" stroke-width="1.0" stroke-linejoin="round"/>
<polyline points="205.7,642.4 221.5,645.1 234.5,638.8" fill="none" stroke="#a88a24" stroke-width="1.8" stroke-linejoin="round" stroke-linecap="round" stroke-opacity="0.8"/><polygon points="221.5,644.4 234.5,638.1 234.2,634.5 221.2,640.8" fill="#b8962a" stroke="#b8962a" stroke-width="1.0" stroke-linejoin="round"/><polygon points="205.7,641.7 221.5,644.4 221.2,640.8 205.4,638.1" fill="#d9b32a" stroke="#d9b32a" stroke-width="1.0" stroke-linejoin="round"/><polygon points="205.4,638.1 221.2,640.8 234.2,634.5 218.5,631.9" fill="url(#yt)" stroke="url(#yt)" stroke-width="1.0" stroke-linejoin="round"/>
<polyline points="230.8,646.7 246.9,649.4 259.7,643.0" fill="none" stroke="#a88a24" stroke-width="1.8" stroke-linejoin="round" stroke-linecap="round" stroke-opacity="0.8"/><polygon points="246.9,648.7 259.7,642.3 259.4,639.1 246.6,645.4" fill="#b8962a" stroke="#b8962a" stroke-width="1.0" stroke-linejoin="round"/><polygon points="230.8,646.0 246.9,648.7 246.6,645.4 230.6,642.7" fill="#d9b32a" stroke="#d9b32a" stroke-width="1.0" stroke-linejoin="round"/><polygon points="230.6,642.7 246.6,645.4 259.4,639.1 243.5,636.4" fill="url(#yt)" stroke="url(#yt)" stroke-width="1.0" stroke-linejoin="round"/>
<polyline points="256.3,651.0 272.6,653.8 285.3,647.3" fill="none" stroke="#a88a24" stroke-width="1.8" stroke-linejoin="round" stroke-linecap="round" stroke-opacity="0.8"/><polygon points="272.6,653.1 285.3,646.6 285.1,644.2 272.5,650.7" fill="#b8962a" stroke="#b8962a" stroke-width="1.0" stroke-linejoin="round"/><polygon points="256.3,650.3 272.6,653.1 272.5,650.7 256.2,647.9" fill="#d9b32a" stroke="#d9b32a" stroke-width="1.0" stroke-linejoin="round"/><polygon points="256.2,647.9 272.5,650.7 285.1,644.2 268.9,641.5" fill="url(#yt)" stroke="url(#yt)" stroke-width="1.0" stroke-linejoin="round"/>
<polyline points="282.3,655.4 298.8,658.2 311.2,651.6" fill="none" stroke="#a88a24" stroke-width="1.8" stroke-linejoin="round" stroke-linecap="round" stroke-opacity="0.8"/><polygon points="298.8,657.5 311.2,650.9 311.1,648.5 298.7,655.1" fill="#b8962a" stroke="#b8962a" stroke-width="1.0" stroke-linejoin="round"/><polygon points="282.3,654.7 298.8,657.5 298.7,655.1 282.1,652.3" fill="#d9b32a" stroke="#d9b32a" stroke-width="1.0" stroke-linejoin="round"/><polygon points="282.1,652.3 298.7,655.1 311.1,648.5 294.7,645.8" fill="url(#yt)" stroke="url(#yt)" stroke-width="1.0" stroke-linejoin="round"/>
<polyline points="308.6,659.9 325.4,662.7 337.6,656.0" fill="none" stroke="#a88a24" stroke-width="1.8" stroke-linejoin="round" stroke-linecap="round" stroke-opacity="0.8"/><polygon points="325.4,662.0 337.6,655.3 337.5,652.9 325.3,659.6" fill="#b8962a" stroke="#b8962a" stroke-width="1.0" stroke-linejoin="round"/><polygon points="308.6,659.2 325.4,662.0 325.3,659.6 308.5,656.7" fill="#d9b32a" stroke="#d9b32a" stroke-width="1.0" stroke-linejoin="round"/><polygon points="308.5,656.7 325.3,659.6 337.5,652.9 320.8,650.1" fill="url(#yt)" stroke="url(#yt)" stroke-width="1.0" stroke-linejoin="round"/>
<polyline points="335.4,664.4 352.5,667.3 364.5,660.5" fill="none" stroke="#a88a24" stroke-width="1.8" stroke-linejoin="round" stroke-linecap="round" stroke-opacity="0.8"/><polygon points="352.5,666.6 364.5,659.8 364.3,657.4 352.3,664.2" fill="#b8962a" stroke="#b8962a" stroke-width="1.0" stroke-linejoin="round"/><polygon points="335.4,663.7 352.5,666.6 352.3,664.2 335.2,661.3" fill="#d9b32a" stroke="#d9b32a" stroke-width="1.0" stroke-linejoin="round"/><polygon points="335.2,661.3 352.3,664.2 364.3,657.4 347.4,654.6" fill="url(#yt)" stroke="url(#yt)" stroke-width="1.0" stroke-linejoin="round"/>
<polyline points="362.6,669.1 379.9,672.0 391.7,665.1" fill="none" stroke="#a88a24" stroke-width="1.8" stroke-linejoin="round" stroke-linecap="round" stroke-opacity="0.8"/><polygon points="379.9,671.3 391.7,664.4 391.6,662.4 379.8,669.3" fill="#b8962a" stroke="#b8962a" stroke-width="1.0" stroke-linejoin="round"/><polygon points="362.6,668.4 379.9,671.3 379.8,669.3 362.5,666.3" fill="#d9b32a" stroke="#d9b32a" stroke-width="1.0" stroke-linejoin="round"/><polygon points="362.5,666.3 379.8,669.3 391.6,662.4 374.4,659.5" fill="url(#yt)" stroke="url(#yt)" stroke-width="1.0" stroke-linejoin="round"/>
<polyline points="390.2,673.8 407.8,676.8 419.4,669.7" fill="none" stroke="#a88a24" stroke-width="1.8" stroke-linejoin="round" stroke-linecap="round" stroke-opacity="0.8"/><polygon points="407.8,676.1 419.4,669.0 419.3,667.0 407.7,674.0" fill="#b8962a" stroke="#b8962a" stroke-width="1.0" stroke-linejoin="round"/><polygon points="390.2,673.1 407.8,676.1 407.7,674.0 390.1,671.0" fill="#d9b32a" stroke="#d9b32a" stroke-width="1.0" stroke-linejoin="round"/><polygon points="390.1,671.0 407.7,674.0 419.3,667.0 401.8,664.0" fill="url(#yt)" stroke="url(#yt)" stroke-width="1.0" stroke-linejoin="round"/>
<polyline points="418.3,678.5 436.2,681.6 447.6,674.4" fill="none" stroke="#a88a24" stroke-width="1.8" stroke-linejoin="round" stroke-linecap="round" stroke-opacity="0.8"/><polygon points="436.2,680.9 447.6,673.7 447.5,671.8 436.1,679.0" fill="#b8962a" stroke="#b8962a" stroke-width="1.0" stroke-linejoin="round"/><polygon points="418.3,677.8 436.2,680.9 436.1,679.0 418.2,675.9" fill="#d9b32a" stroke="#d9b32a" stroke-width="1.0" stroke-linejoin="round"/><polygon points="418.2,675.9 436.1,679.0 447.5,671.8 429.7,668.9" fill="url(#yt)" stroke="url(#yt)" stroke-width="1.0" stroke-linejoin="round"/>
<polyline points="446.8,683.4 465.1,686.5 476.2,679.2" fill="none" stroke="#a88a24" stroke-width="1.8" stroke-linejoin="round" stroke-linecap="round" stroke-opacity="0.8"/><polygon points="465.1,685.8 476.2,678.5 476.1,676.1 465.0,683.3" fill="#b8962a" stroke="#b8962a" stroke-width="1.0" stroke-linejoin="round"/><polygon points="446.8,682.7 465.1,685.8 465.0,683.3 446.7,680.2" fill="#d9b32a" stroke="#d9b32a" stroke-width="1.0" stroke-linejoin="round"/><polygon points="446.7,680.2 465.0,683.3 476.1,676.1 458.0,673.1" fill="url(#yt)" stroke="url(#yt)" stroke-width="1.0" stroke-linejoin="round"/>
<polyline points="475.9,688.3 494.4,691.5 505.3,684.1" fill="none" stroke="#a88a24" stroke-width="1.8" stroke-linejoin="round" stroke-linecap="round" stroke-opacity="0.8"/><polygon points="494.4,690.8 505.3,683.4 505.2,681.4 494.4,688.8" fill="#b8962a" stroke="#b8962a" stroke-width="1.0" stroke-linejoin="round"/><polygon points="475.9,687.6 494.4,690.8 494.4,688.8 475.8,685.6" fill="#d9b32a" stroke="#d9b32a" stroke-width="1.0" stroke-linejoin="round"/><polygon points="475.8,685.6 494.4,688.8 505.2,681.4 486.8,678.3" fill="url(#yt)" stroke="url(#yt)" stroke-width="1.0" stroke-linejoin="round"/>
<polyline points="505.4,693.3 524.3,696.6 534.8,689.0" fill="none" stroke="#a88a24" stroke-width="1.8" stroke-linejoin="round" stroke-linecap="round" stroke-opacity="0.8"/><polygon points="524.3,695.9 534.8,688.3 534.8,686.2 524.2,693.7" fill="#b8962a" stroke="#b8962a" stroke-width="1.0" stroke-linejoin="round"/><polygon points="505.4,692.6 524.3,695.9 524.2,693.7 505.3,690.5" fill="#d9b32a" stroke="#d9b32a" stroke-width="1.0" stroke-linejoin="round"/><polygon points="505.3,690.5 524.2,693.7 534.8,686.2 516.1,683.1" fill="url(#yt)" stroke="url(#yt)" stroke-width="1.0" stroke-linejoin="round"/>
<polyline points="535.4,698.5 554.6,701.7 564.9,694.1" fill="none" stroke="#a88a24" stroke-width="1.8" stroke-linejoin="round" stroke-linecap="round" stroke-opacity="0.8"/><polygon points="554.6,701.0 564.9,693.4 564.8,691.3 554.6,698.9" fill="#b8962a" stroke="#b8962a" stroke-width="1.0" stroke-linejoin="round"/><polygon points="535.4,697.8 554.6,701.0 554.6,698.9 535.4,695.7" fill="#d9b32a" stroke="#d9b32a" stroke-width="1.0" stroke-linejoin="round"/><polygon points="535.4,695.7 554.6,698.9 564.8,691.3 545.8,688.1" fill="url(#yt)" stroke="url(#yt)" stroke-width="1.0" stroke-linejoin="round"/>
<polyline points="566.0,703.6 585.5,707.0 595.5,699.2" fill="none" stroke="#a88a24" stroke-width="1.8" stroke-linejoin="round" stroke-linecap="round" stroke-opacity="0.8"/><polygon points="585.5,706.3 595.5,698.5 595.4,696.5 585.4,704.2" fill="#b8962a" stroke="#b8962a" stroke-width="1.0" stroke-linejoin="round"/><polygon points="566.0,702.9 585.5,706.3 585.4,704.2 565.9,700.9" fill="#d9b32a" stroke="#d9b32a" stroke-width="1.0" stroke-linejoin="round"/><polygon points="565.9,700.9 585.4,704.2 595.4,696.5 576.1,693.2" fill="url(#yt)" stroke="url(#yt)" stroke-width="1.0" stroke-linejoin="round"/>
<polyline points="597.0,708.9 616.9,712.3 626.6,704.4" fill="none" stroke="#a88a24" stroke-width="1.8" stroke-linejoin="round" stroke-linecap="round" stroke-opacity="0.8"/><polygon points="616.9,711.6 626.6,703.7 626.6,701.7 616.9,709.5" fill="#b8962a" stroke="#b8962a" stroke-width="1.0" stroke-linejoin="round"/><polygon points="597.0,708.2 616.9,711.6 616.9,709.5 597.0,706.2" fill="#d9b32a" stroke="#d9b32a" stroke-width="1.0" stroke-linejoin="round"/><polygon points="597.0,706.2 616.9,709.5 626.6,701.7 606.9,698.4" fill="url(#yt)" stroke="url(#yt)" stroke-width="1.0" stroke-linejoin="round"/>
<polyline points="628.6,714.3 648.8,717.7 658.2,709.7" fill="none" stroke="#a88a24" stroke-width="1.8" stroke-linejoin="round" stroke-linecap="round" stroke-opacity="0.8"/><polygon points="648.8,717.0 658.2,709.0 658.2,707.1 648.8,715.1" fill="#b8962a" stroke="#b8962a" stroke-width="1.0" stroke-linejoin="round"/><polygon points="628.6,713.6 648.8,717.0 648.8,715.1 628.6,711.7" fill="#d9b32a" stroke="#d9b32a" stroke-width="1.0" stroke-linejoin="round"/><polygon points="628.6,711.7 648.8,715.1 658.2,707.1 638.2,703.8" fill="url(#yt)" stroke="url(#yt)" stroke-width="1.0" stroke-linejoin="round"/>
<polyline points="660.8,719.8 681.4,723.3 690.4,715.1" fill="none" stroke="#a88a24" stroke-width="1.8" stroke-linejoin="round" stroke-linecap="round" stroke-opacity="0.8"/><polygon points="681.4,722.6 690.4,714.4 690.4,712.6 681.4,720.7" fill="#b8962a" stroke="#b8962a" stroke-width="1.0" stroke-linejoin="round"/><polygon points="660.8,719.1 681.4,722.6 681.4,720.7 660.8,717.2" fill="#d9b32a" stroke="#d9b32a" stroke-width="1.0" stroke-linejoin="round"/><polygon points="660.8,717.2 681.4,720.7 690.4,712.6 670.1,709.2" fill="url(#yt)" stroke="url(#yt)" stroke-width="1.0" stroke-linejoin="round"/>
<polyline points="693.5,725.3 714.5,728.9 723.2,720.6" fill="none" stroke="#a88a24" stroke-width="1.8" stroke-linejoin="round" stroke-linecap="round" stroke-opacity="0.8"/><polygon points="714.5,728.2 723.2,719.9 723.2,718.5 714.5,726.8" fill="#b8962a" stroke="#b8962a" stroke-width="1.0" stroke-linejoin="round"/><polygon points="693.5,724.6 714.5,728.2 714.5,726.8 693.5,723.3" fill="#d9b32a" stroke="#d9b32a" stroke-width="1.0" stroke-linejoin="round"/><polygon points="693.5,723.3 714.5,726.8 723.2,718.5 702.5,715.1" fill="url(#yt)" stroke="url(#yt)" stroke-width="1.0" stroke-linejoin="round"/>
<polyline points="726.8,731.0 748.1,734.6 756.5,726.2" fill="none" stroke="#a88a24" stroke-width="1.8" stroke-linejoin="round" stroke-linecap="round" stroke-opacity="0.8"/><polygon points="748.1,733.9 756.5,725.5 756.5,723.9 748.2,732.4" fill="#b8962a" stroke="#b8962a" stroke-width="1.0" stroke-linejoin="round"/><polygon points="726.8,730.3 748.1,733.9 748.2,732.4 726.9,728.7" fill="#d9b32a" stroke="#d9b32a" stroke-width="1.0" stroke-linejoin="round"/><polygon points="726.9,728.7 748.2,732.4 756.5,723.9 735.5,720.4" fill="url(#yt)" stroke="url(#yt)" stroke-width="1.0" stroke-linejoin="round"/>
<polyline points="760.8,736.8 782.5,740.5 790.5,731.8" fill="none" stroke="#a88a24" stroke-width="1.8" stroke-linejoin="round" stroke-linecap="round" stroke-opacity="0.8"/><polygon points="782.5,739.8 790.5,731.1 790.5,729.7 782.5,738.3" fill="#b8962a" stroke="#b8962a" stroke-width="1.0" stroke-linejoin="round"/><polygon points="760.8,736.1 782.5,739.8 782.5,738.3 760.8,734.6" fill="#d9b32a" stroke="#d9b32a" stroke-width="1.0" stroke-linejoin="round"/><polygon points="760.8,734.6 782.5,738.3 790.5,729.7 769.0,726.1" fill="url(#yt)" stroke="url(#yt)" stroke-width="1.0" stroke-linejoin="round"/>
<polyline points="795.3,742.6 817.4,746.4 825.0,737.6" fill="none" stroke="#a88a24" stroke-width="1.8" stroke-linejoin="round" stroke-linecap="round" stroke-opacity="0.8"/><polygon points="817.4,745.7 825.0,736.9 825.1,735.5 817.4,744.3" fill="#b8962a" stroke="#b8962a" stroke-width="1.0" stroke-linejoin="round"/><polygon points="795.3,741.9 817.4,745.7 817.4,744.3 795.3,740.5" fill="#d9b32a" stroke="#d9b32a" stroke-width="1.0" stroke-linejoin="round"/><polygon points="795.3,740.5 817.4,744.3 825.1,735.5 803.2,731.9" fill="url(#yt)" stroke="url(#yt)" stroke-width="1.0" stroke-linejoin="round"/>
<polyline points="830.5,748.6 853.0,752.4 860.2,743.5" fill="none" stroke="#a88a24" stroke-width="1.8" stroke-linejoin="round" stroke-linecap="round" stroke-opacity="0.8"/><polygon points="853.0,751.7 860.2,742.8 860.2,741.4 853.0,750.3" fill="#b8962a" stroke="#b8962a" stroke-width="1.0" stroke-linejoin="round"/><polygon points="830.5,747.9 853.0,751.7 853.0,750.3 830.5,746.5" fill="#d9b32a" stroke="#d9b32a" stroke-width="1.0" stroke-linejoin="round"/><polygon points="830.5,746.5 853.0,750.3 860.2,741.4 838.0,737.7" fill="url(#yt)" stroke="url(#yt)" stroke-width="1.0" stroke-linejoin="round"/>
<polyline points="866.3,754.7 889.2,758.6 896.0,749.5" fill="none" stroke="#a88a24" stroke-width="1.8" stroke-linejoin="round" stroke-linecap="round" stroke-opacity="0.8"/><polygon points="889.2,757.9 896.0,748.8 896.1,747.7 889.3,756.8" fill="#b8962a" stroke="#b8962a" stroke-width="1.0" stroke-linejoin="round"/><polygon points="866.3,754.0 889.2,757.9 889.3,756.8 866.3,752.9" fill="#d9b32a" stroke="#d9b32a" stroke-width="1.0" stroke-linejoin="round"/><polygon points="866.3,752.9 889.3,756.8 896.1,747.7 873.4,743.9" fill="url(#yt)" stroke="url(#yt)" stroke-width="1.0" stroke-linejoin="round"/>
<polyline points="902.8,760.9 926.2,764.9 932.5,755.6" fill="none" stroke="#a88a24" stroke-width="1.8" stroke-linejoin="round" stroke-linecap="round" stroke-opacity="0.8"/><polygon points="926.2,764.2 932.5,754.9 932.6,753.9 926.2,763.1" fill="#b8962a" stroke="#b8962a" stroke-width="1.0" stroke-linejoin="round"/><polygon points="902.8,760.2 926.2,764.2 926.2,763.1 902.8,759.2" fill="#d9b32a" stroke="#d9b32a" stroke-width="1.0" stroke-linejoin="round"/><polygon points="902.8,759.2 926.2,763.1 932.6,753.9 909.5,750.0" fill="url(#yt)" stroke="url(#yt)" stroke-width="1.0" stroke-linejoin="round"/>
<polyline points="940.0,767.2 963.8,771.3 969.7,761.9" fill="none" stroke="#a88a24" stroke-width="1.8" stroke-linejoin="round" stroke-linecap="round" stroke-opacity="0.8"/><polygon points="963.8,770.6 969.7,761.2 969.8,760.1 963.8,769.5" fill="#b8962a" stroke="#b8962a" stroke-width="1.0" stroke-linejoin="round"/><polygon points="940.0,766.5 963.8,770.6 963.8,769.5 940.0,765.5" fill="#d9b32a" stroke="#d9b32a" stroke-width="1.0" stroke-linejoin="round"/><polygon points="940.0,765.5 963.8,769.5 969.8,760.1 946.3,756.1" fill="url(#yt)" stroke="url(#yt)" stroke-width="1.0" stroke-linejoin="round"/>
<polyline points="977.9,773.7 1002.1,777.8 1007.6,768.2" fill="none" stroke="#a88a24" stroke-width="1.8" stroke-linejoin="round" stroke-linecap="round" stroke-opacity="0.8"/><polygon points="1002.1,777.1 1007.6,767.5 1007.7,766.3 1002.2,775.9" fill="#b8962a" stroke="#b8962a" stroke-width="1.0" stroke-linejoin="round"/><polygon points="977.9,773.0 1002.1,777.1 1002.2,775.9 978.0,771.8" fill="#d9b32a" stroke="#d9b32a" stroke-width="1.0" stroke-linejoin="round"/><polygon points="978.0,771.8 1002.2,775.9 1007.7,766.3 983.7,762.3" fill="url(#yt)" stroke="url(#yt)" stroke-width="1.0" stroke-linejoin="round"/>
<polyline points="1016.5,780.3 1041.2,784.5 1046.2,774.7" fill="none" stroke="#a88a24" stroke-width="1.8" stroke-linejoin="round" stroke-linecap="round" stroke-opacity="0.8"/><polygon points="1041.2,783.8 1046.2,774.0 1046.3,773.0 1041.3,782.8" fill="#b8962a" stroke="#b8962a" stroke-width="1.0" stroke-linejoin="round"/><polygon points="1016.5,779.6 1041.2,783.8 1041.3,782.8 1016.6,778.6" fill="#d9b32a" stroke="#d9b32a" stroke-width="1.0" stroke-linejoin="round"/><polygon points="1016.6,778.6 1041.3,782.8 1046.3,773.0 1021.9,769.0" fill="url(#yt)" stroke="url(#yt)" stroke-width="1.0" stroke-linejoin="round"/>
<polyline points="1055.9,786.9 1081.1,791.2 1085.6,781.3" fill="none" stroke="#a88a24" stroke-width="1.8" stroke-linejoin="round" stroke-linecap="round" stroke-opacity="0.8"/><polygon points="1081.1,790.5 1085.6,780.6 1085.7,779.7 1081.2,789.6" fill="#b8962a" stroke="#b8962a" stroke-width="1.0" stroke-linejoin="round"/><polygon points="1055.9,786.2 1081.1,790.5 1081.2,789.6 1056.0,785.4" fill="#d9b32a" stroke="#d9b32a" stroke-width="1.0" stroke-linejoin="round"/><polygon points="1056.0,785.4 1081.2,789.6 1085.7,779.7 1060.8,775.5" fill="url(#yt)" stroke="url(#yt)" stroke-width="1.0" stroke-linejoin="round"/>
<polyline points="1096.1,793.8 1121.8,798.1 1125.7,788.0" fill="none" stroke="#a88a24" stroke-width="1.8" stroke-linejoin="round" stroke-linecap="round" stroke-opacity="0.8"/><polygon points="1121.8,797.4 1125.7,787.3 1125.8,786.5 1121.8,796.7" fill="#b8962a" stroke="#b8962a" stroke-width="1.0" stroke-linejoin="round"/><polygon points="1096.1,793.1 1121.8,797.4 1121.8,796.7 1096.1,792.3" fill="#d9b32a" stroke="#d9b32a" stroke-width="1.0" stroke-linejoin="round"/><polygon points="1096.1,792.3 1121.8,796.7 1125.8,786.5 1100.4,782.3" fill="url(#yt)" stroke="url(#yt)" stroke-width="1.0" stroke-linejoin="round"/>
<polyline points="152.3,651.5 167.6,654.1 180.8,647.9" fill="none" stroke="#a8922e" stroke-width="1.8" stroke-linejoin="round" stroke-linecap="round" stroke-opacity="0.8"/><polygon points="167.6,653.4 180.8,647.2 179.9,636.4 166.6,642.6" fill="#d6bd49" stroke="#d6bd49" stroke-width="1.0" stroke-linejoin="round"/><polygon points="152.3,650.8 167.6,653.4 166.6,642.6 151.4,639.9" fill="url(#yb)" stroke="url(#yb)" stroke-width="1.0" stroke-linejoin="round"/><polygon points="151.4,639.9 166.6,642.6 179.9,636.4 164.7,633.8" fill="#faf07e" stroke="#faf07e" stroke-width="1.0" stroke-linejoin="round"/>
<polyline points="177.4,655.9 192.9,658.6 206.0,652.3" fill="none" stroke="#a8922e" stroke-width="1.8" stroke-linejoin="round" stroke-linecap="round" stroke-opacity="0.8"/><polygon points="192.9,657.9 206.0,651.6 205.1,640.6 192.0,646.9" fill="#d6bd49" stroke="#d6bd49" stroke-width="1.0" stroke-linejoin="round"/><polygon points="177.4,655.2 192.9,657.9 192.0,646.9 176.5,644.2" fill="url(#yb)" stroke="url(#yb)" stroke-width="1.0" stroke-linejoin="round"/><polygon points="176.5,644.2 192.0,646.9 205.1,640.6 189.7,638.0" fill="#faf07e" stroke="#faf07e" stroke-width="1.0" stroke-linejoin="round"/>
<polyline points="202.9,660.3 218.7,663.1 231.6,656.7" fill="none" stroke="#a8922e" stroke-width="1.8" stroke-linejoin="round" stroke-linecap="round" stroke-opacity="0.8"/><polygon points="218.7,662.4 231.6,656.0 230.7,644.9 217.8,651.3" fill="#d6bd49" stroke="#d6bd49" stroke-width="1.0" stroke-linejoin="round"/><polygon points="202.9,659.6 218.7,662.4 217.8,651.3 202.0,648.5" fill="url(#yb)" stroke="url(#yb)" stroke-width="1.0" stroke-linejoin="round"/><polygon points="202.0,648.5 217.8,651.3 230.7,644.9 215.1,642.3" fill="#faf07e" stroke="#faf07e" stroke-width="1.0" stroke-linejoin="round"/>
<polyline points="228.8,664.9 244.9,667.7 257.6,661.2" fill="none" stroke="#a8922e" stroke-width="1.8" stroke-linejoin="round" stroke-linecap="round" stroke-opacity="0.8"/><polygon points="244.9,667.0 257.6,660.5 256.7,649.1 244.0,655.5" fill="#d6bd49" stroke="#d6bd49" stroke-width="1.0" stroke-linejoin="round"/><polygon points="228.8,664.2 244.9,667.0 244.0,655.5 228.0,652.7" fill="url(#yb)" stroke="url(#yb)" stroke-width="1.0" stroke-linejoin="round"/><polygon points="228.0,652.7 244.0,655.5 256.7,649.1 240.8,646.4" fill="#faf07e" stroke="#faf07e" stroke-width="1.0" stroke-linejoin="round"/>
<polyline points="255.2,669.5 271.5,672.4 284.0,665.7" fill="none" stroke="#a8922e" stroke-width="1.8" stroke-linejoin="round" stroke-linecap="round" stroke-opacity="0.8"/><polygon points="271.5,671.7 284.0,665.0 283.2,653.5 270.6,660.0" fill="#d6bd49" stroke="#d6bd49" stroke-width="1.0" stroke-linejoin="round"/><polygon points="255.2,668.8 271.5,671.7 270.6,660.0 254.3,657.2" fill="url(#yb)" stroke="url(#yb)" stroke-width="1.0" stroke-linejoin="round"/><polygon points="254.3,657.2 270.6,660.0 283.2,653.5 267.0,650.7" fill="#faf07e" stroke="#faf07e" stroke-width="1.0" stroke-linejoin="round"/>
<polyline points="281.9,674.2 298.5,677.1 310.8,670.4" fill="none" stroke="#a8922e" stroke-width="1.8" stroke-linejoin="round" stroke-linecap="round" stroke-opacity="0.8"/><polygon points="298.5,676.4 310.8,669.7 310.1,658.2 297.7,664.9" fill="#d6bd49" stroke="#d6bd49" stroke-width="1.0" stroke-linejoin="round"/><polygon points="281.9,673.5 298.5,676.4 297.7,664.9 281.2,662.0" fill="url(#yb)" stroke="url(#yb)" stroke-width="1.0" stroke-linejoin="round"/><polygon points="281.2,662.0 297.7,664.9 310.1,658.2 293.6,655.5" fill="#faf07e" stroke="#faf07e" stroke-width="1.0" stroke-linejoin="round"/>
<polyline points="309.1,679.0 325.9,682.0 338.0,675.1" fill="none" stroke="#a8922e" stroke-width="1.8" stroke-linejoin="round" stroke-linecap="round" stroke-opacity="0.8"/><polygon points="325.9,681.3 338.0,674.4 337.4,662.9 325.2,669.6" fill="#d6bd49" stroke="#d6bd49" stroke-width="1.0" stroke-linejoin="round"/><polygon points="309.1,678.3 325.9,681.3 325.2,669.6 308.4,666.7" fill="url(#yb)" stroke="url(#yb)" stroke-width="1.0" stroke-linejoin="round"/><polygon points="308.4,666.7 325.2,669.6 337.4,662.9 320.7,660.0" fill="#faf07e" stroke="#faf07e" stroke-width="1.0" stroke-linejoin="round"/>
<polyline points="336.8,683.9 353.9,686.9 365.8,679.9" fill="none" stroke="#a8922e" stroke-width="1.8" stroke-linejoin="round" stroke-linecap="round" stroke-opacity="0.8"/><polygon points="353.9,686.2 365.8,679.2 365.1,667.5 353.2,674.3" fill="#d6bd49" stroke="#d6bd49" stroke-width="1.0" stroke-linejoin="round"/><polygon points="336.8,683.2 353.9,686.2 353.2,674.3 336.1,671.4" fill="url(#yb)" stroke="url(#yb)" stroke-width="1.0" stroke-linejoin="round"/><polygon points="336.1,671.4 353.2,674.3 365.1,667.5 348.1,664.6" fill="#faf07e" stroke="#faf07e" stroke-width="1.0" stroke-linejoin="round"/>
<polyline points="364.9,688.8 382.3,691.9 393.9,684.8" fill="none" stroke="#a8922e" stroke-width="1.8" stroke-linejoin="round" stroke-linecap="round" stroke-opacity="0.8"/><polygon points="382.3,691.2 393.9,684.1 393.4,672.4 381.7,679.4" fill="#d6bd49" stroke="#d6bd49" stroke-width="1.0" stroke-linejoin="round"/><polygon points="364.9,688.1 382.3,691.2 381.7,679.4 364.3,676.4" fill="url(#yb)" stroke="url(#yb)" stroke-width="1.0" stroke-linejoin="round"/><polygon points="364.3,676.4 381.7,679.4 393.4,672.4 376.1,669.5" fill="#faf07e" stroke="#faf07e" stroke-width="1.0" stroke-linejoin="round"/>
<polyline points="393.5,693.8 411.2,696.9 422.6,689.7" fill="none" stroke="#a8922e" stroke-width="1.8" stroke-linejoin="round" stroke-linecap="round" stroke-opacity="0.8"/><polygon points="411.2,696.2 422.6,689.0 422.0,677.1 410.6,684.2" fill="#d6bd49" stroke="#d6bd49" stroke-width="1.0" stroke-linejoin="round"/><polygon points="393.5,693.1 411.2,696.2 410.6,684.2 392.9,681.1" fill="url(#yb)" stroke="url(#yb)" stroke-width="1.0" stroke-linejoin="round"/><polygon points="392.9,681.1 410.6,684.2 422.0,677.1 404.5,674.1" fill="#faf07e" stroke="#faf07e" stroke-width="1.0" stroke-linejoin="round"/>
<polyline points="422.5,698.9 440.5,702.1 451.7,694.8" fill="none" stroke="#a8922e" stroke-width="1.8" stroke-linejoin="round" stroke-linecap="round" stroke-opacity="0.8"/><polygon points="440.5,701.4 451.7,694.1 451.2,682.2 440.0,689.4" fill="#d6bd49" stroke="#d6bd49" stroke-width="1.0" stroke-linejoin="round"/><polygon points="422.5,698.2 440.5,701.4 440.0,689.4 422.0,686.3" fill="url(#yb)" stroke="url(#yb)" stroke-width="1.0" stroke-linejoin="round"/><polygon points="422.0,686.3 440.0,689.4 451.2,682.2 433.4,679.2" fill="#faf07e" stroke="#faf07e" stroke-width="1.0" stroke-linejoin="round"/>
<polyline points="452.1,704.1 470.4,707.3 481.3,699.9" fill="none" stroke="#a8922e" stroke-width="1.8" stroke-linejoin="round" stroke-linecap="round" stroke-opacity="0.8"/><polygon points="470.4,706.6 481.3,699.2 480.9,687.3 470.0,694.7" fill="#d6bd49" stroke="#d6bd49" stroke-width="1.0" stroke-linejoin="round"/><polygon points="452.1,703.4 470.4,706.6 470.0,694.7 451.6,691.5" fill="url(#yb)" stroke="url(#yb)" stroke-width="1.0" stroke-linejoin="round"/><polygon points="451.6,691.5 470.0,694.7 480.9,687.3 462.8,684.3" fill="#faf07e" stroke="#faf07e" stroke-width="1.0" stroke-linejoin="round"/>
<polyline points="482.2,709.4 500.8,712.7 511.5,705.1" fill="none" stroke="#a8922e" stroke-width="1.8" stroke-linejoin="round" stroke-linecap="round" stroke-opacity="0.8"/><polygon points="500.8,712.0 511.5,704.4 511.1,692.9 500.4,700.4" fill="#d6bd49" stroke="#d6bd49" stroke-width="1.0" stroke-linejoin="round"/><polygon points="482.2,708.7 500.8,712.0 500.4,700.4 481.8,697.1" fill="url(#yb)" stroke="url(#yb)" stroke-width="1.0" stroke-linejoin="round"/><polygon points="481.8,697.1 500.4,700.4 511.1,692.9 492.6,689.8" fill="#faf07e" stroke="#faf07e" stroke-width="1.0" stroke-linejoin="round"/>
<polyline points="512.8,714.8 531.7,718.1 542.1,710.4" fill="none" stroke="#a8922e" stroke-width="1.8" stroke-linejoin="round" stroke-linecap="round" stroke-opacity="0.8"/><polygon points="531.7,717.4 542.1,709.7 541.8,697.8 531.4,705.4" fill="#d6bd49" stroke="#d6bd49" stroke-width="1.0" stroke-linejoin="round"/><polygon points="512.8,714.1 531.7,717.4 531.4,705.4 512.5,702.1" fill="url(#yb)" stroke="url(#yb)" stroke-width="1.0" stroke-linejoin="round"/><polygon points="512.5,702.1 531.4,705.4 541.8,697.8 523.0,694.6" fill="#faf07e" stroke="#faf07e" stroke-width="1.0" stroke-linejoin="round"/>
<polyline points="543.9,720.3 563.2,723.7 573.3,715.8" fill="none" stroke="#a8922e" stroke-width="1.8" stroke-linejoin="round" stroke-linecap="round" stroke-opacity="0.8"/><polygon points="563.2,723.0 573.3,715.1 573.1,703.2 563.0,710.9" fill="#d6bd49" stroke="#d6bd49" stroke-width="1.0" stroke-linejoin="round"/><polygon points="543.9,719.6 563.2,723.0 563.0,710.9 543.7,707.5" fill="url(#yb)" stroke="url(#yb)" stroke-width="1.0" stroke-linejoin="round"/><polygon points="543.7,707.5 563.0,710.9 573.1,703.2 554.0,699.9" fill="#faf07e" stroke="#faf07e" stroke-width="1.0" stroke-linejoin="round"/>
<polyline points="575.6,725.8 595.2,729.3 605.0,721.3" fill="none" stroke="#a8922e" stroke-width="1.8" stroke-linejoin="round" stroke-linecap="round" stroke-opacity="0.8"/><polygon points="595.2,728.6 605.0,720.6 604.9,708.6 595.1,716.5" fill="#d6bd49" stroke="#d6bd49" stroke-width="1.0" stroke-linejoin="round"/><polygon points="575.6,725.1 595.2,728.6 595.1,716.5 575.4,713.1" fill="url(#yb)" stroke="url(#yb)" stroke-width="1.0" stroke-linejoin="round"/><polygon points="575.4,713.1 595.1,716.5 604.9,708.6 585.4,705.3" fill="#faf07e" stroke="#faf07e" stroke-width="1.0" stroke-linejoin="round"/>
<polyline points="607.9,731.5 627.8,735.0 637.3,726.9" fill="none" stroke="#a8922e" stroke-width="1.8" stroke-linejoin="round" stroke-linecap="round" stroke-opacity="0.8"/><polygon points="627.8,734.3 637.3,726.2 637.3,714.1 627.7,722.1" fill="#d6bd49" stroke="#d6bd49" stroke-width="1.0" stroke-linejoin="round"/><polygon points="607.9,730.8 627.8,734.3 627.7,722.1 607.7,718.7" fill="url(#yb)" stroke="url(#yb)" stroke-width="1.0" stroke-linejoin="round"/><polygon points="607.7,718.7 627.7,722.1 637.3,714.1 617.4,710.8" fill="#faf07e" stroke="#faf07e" stroke-width="1.0" stroke-linejoin="round"/>
<polyline points="640.7,737.3 661.0,740.9 670.2,732.6" fill="none" stroke="#a8922e" stroke-width="1.8" stroke-linejoin="round" stroke-linecap="round" stroke-opacity="0.8"/><polygon points="661.0,740.2 670.2,731.9 670.2,719.8 661.0,727.9" fill="#d6bd49" stroke="#d6bd49" stroke-width="1.0" stroke-linejoin="round"/><polygon points="640.7,736.6 661.0,740.2 661.0,727.9 640.6,724.4" fill="url(#yb)" stroke="url(#yb)" stroke-width="1.0" stroke-linejoin="round"/><polygon points="640.6,724.4 661.0,727.9 670.2,719.8 650.0,716.4" fill="#faf07e" stroke="#faf07e" stroke-width="1.0" stroke-linejoin="round"/>
<polyline points="674.2,743.2 694.9,746.8 703.7,738.4" fill="none" stroke="#a8922e" stroke-width="1.8" stroke-linejoin="round" stroke-linecap="round" stroke-opacity="0.8"/><polygon points="694.9,746.1 703.7,737.7 703.7,726.1 694.9,734.4" fill="#d6bd49" stroke="#d6bd49" stroke-width="1.0" stroke-linejoin="round"/><polygon points="674.2,742.5 694.9,746.1 694.9,734.4 674.2,730.8" fill="url(#yb)" stroke="url(#yb)" stroke-width="1.0" stroke-linejoin="round"/><polygon points="674.2,730.8 694.9,734.4 703.7,726.1 683.2,722.6" fill="#faf07e" stroke="#faf07e" stroke-width="1.0" stroke-linejoin="round"/>
<polyline points="708.2,749.1 729.3,752.8 737.8,744.3" fill="none" stroke="#a8922e" stroke-width="1.8" stroke-linejoin="round" stroke-linecap="round" stroke-opacity="0.8"/><polygon points="729.3,752.1 737.8,743.6 737.9,731.6 729.4,740.0" fill="#d6bd49" stroke="#d6bd49" stroke-width="1.0" stroke-linejoin="round"/><polygon points="708.2,748.4 729.3,752.1 729.4,740.0 708.3,736.4" fill="url(#yb)" stroke="url(#yb)" stroke-width="1.0" stroke-linejoin="round"/><polygon points="708.3,736.4 729.4,740.0 737.9,731.6 717.0,728.0" fill="#faf07e" stroke="#faf07e" stroke-width="1.0" stroke-linejoin="round"/>
<polyline points="742.9,755.2 764.4,759.0 772.5,750.3" fill="none" stroke="#a8922e" stroke-width="1.8" stroke-linejoin="round" stroke-linecap="round" stroke-opacity="0.8"/><polygon points="764.4,758.3 772.5,749.6 772.7,737.6 764.6,746.2" fill="#d6bd49" stroke="#d6bd49" stroke-width="1.0" stroke-linejoin="round"/><polygon points="742.9,754.5 764.4,758.3 764.6,746.2 743.0,742.5" fill="url(#yb)" stroke="url(#yb)" stroke-width="1.0" stroke-linejoin="round"/><polygon points="743.0,742.5 764.6,746.2 772.7,737.6 751.4,734.0" fill="#faf07e" stroke="#faf07e" stroke-width="1.0" stroke-linejoin="round"/>
<polyline points="778.2,761.4 800.1,765.3 807.9,756.4" fill="none" stroke="#a8922e" stroke-width="1.8" stroke-linejoin="round" stroke-linecap="round" stroke-opacity="0.8"/><polygon points="800.1,764.6 807.9,755.7 808.1,743.8 800.4,752.6" fill="#d6bd49" stroke="#d6bd49" stroke-width="1.0" stroke-linejoin="round"/><polygon points="778.2,760.7 800.1,764.6 800.4,752.6 778.5,748.8" fill="url(#yb)" stroke="url(#yb)" stroke-width="1.0" stroke-linejoin="round"/><polygon points="778.5,748.8 800.4,752.6 808.1,743.8 786.4,740.1" fill="#faf07e" stroke="#faf07e" stroke-width="1.0" stroke-linejoin="round"/>
<polyline points="814.2,767.8 836.5,771.7 843.9,762.6" fill="none" stroke="#a8922e" stroke-width="1.8" stroke-linejoin="round" stroke-linecap="round" stroke-opacity="0.8"/><polygon points="836.5,771.0 843.9,761.9 844.2,749.9 836.9,758.8" fill="#d6bd49" stroke="#d6bd49" stroke-width="1.0" stroke-linejoin="round"/><polygon points="814.2,767.1 836.5,771.0 836.9,758.8 814.5,755.0" fill="url(#yb)" stroke="url(#yb)" stroke-width="1.0" stroke-linejoin="round"/><polygon points="814.5,755.0 836.9,758.8 844.2,749.9 822.1,746.2" fill="#faf07e" stroke="#faf07e" stroke-width="1.0" stroke-linejoin="round"/>
<polyline points="850.9,774.2 873.7,778.2 880.6,769.0" fill="none" stroke="#a8922e" stroke-width="1.8" stroke-linejoin="round" stroke-linecap="round" stroke-opacity="0.8"/><polygon points="873.7,777.5 880.6,768.3 881.0,756.2 874.1,765.3" fill="#d6bd49" stroke="#d6bd49" stroke-width="1.0" stroke-linejoin="round"/><polygon points="850.9,773.5 873.7,777.5 874.1,765.3 851.3,761.3" fill="url(#yb)" stroke="url(#yb)" stroke-width="1.0" stroke-linejoin="round"/><polygon points="851.3,761.3 874.1,765.3 881.0,756.2 858.5,752.4" fill="#faf07e" stroke="#faf07e" stroke-width="1.0" stroke-linejoin="round"/>
<polyline points="888.3,780.8 911.5,784.9 918.0,775.5" fill="none" stroke="#a8922e" stroke-width="1.8" stroke-linejoin="round" stroke-linecap="round" stroke-opacity="0.8"/><polygon points="911.5,784.2 918.0,774.8 918.5,762.6 912.0,771.9" fill="#d6bd49" stroke="#d6bd49" stroke-width="1.0" stroke-linejoin="round"/><polygon points="888.3,780.1 911.5,784.2 912.0,771.9 888.8,767.9" fill="url(#yb)" stroke="url(#yb)" stroke-width="1.0" stroke-linejoin="round"/><polygon points="888.8,767.9 912.0,771.9 918.5,762.6 895.6,758.7" fill="#faf07e" stroke="#faf07e" stroke-width="1.0" stroke-linejoin="round"/>
<polyline points="926.5,787.5 950.1,791.6 956.1,782.1" fill="none" stroke="#a8922e" stroke-width="1.8" stroke-linejoin="round" stroke-linecap="round" stroke-opacity="0.8"/><polygon points="950.1,790.9 956.1,781.4 956.7,769.3 950.7,778.8" fill="#d6bd49" stroke="#d6bd49" stroke-width="1.0" stroke-linejoin="round"/><polygon points="926.5,786.8 950.1,790.9 950.7,778.8 927.0,774.7" fill="url(#yb)" stroke="url(#yb)" stroke-width="1.0" stroke-linejoin="round"/><polygon points="927.0,774.7 950.7,778.8 956.7,769.3 933.3,765.3" fill="#faf07e" stroke="#faf07e" stroke-width="1.0" stroke-linejoin="round"/>
<polyline points="965.3,794.3 989.4,798.6 995.0,788.8" fill="none" stroke="#a8922e" stroke-width="1.8" stroke-linejoin="round" stroke-linecap="round" stroke-opacity="0.8"/><polygon points="989.4,797.9 995.0,788.1 995.7,775.8 990.1,785.4" fill="#d6bd49" stroke="#d6bd49" stroke-width="1.0" stroke-linejoin="round"/><polygon points="965.3,793.6 989.4,797.9 990.1,785.4 966.0,781.2" fill="url(#yb)" stroke="url(#yb)" stroke-width="1.0" stroke-linejoin="round"/><polygon points="966.0,781.2 990.1,785.4 995.7,775.8 971.8,771.7" fill="#faf07e" stroke="#faf07e" stroke-width="1.0" stroke-linejoin="round"/>
<polyline points="1005.0,801.3 1029.6,805.6 1034.6,795.7" fill="none" stroke="#a8922e" stroke-width="1.8" stroke-linejoin="round" stroke-linecap="round" stroke-opacity="0.8"/><polygon points="1029.6,804.9 1034.6,795.0 1035.4,783.0 1030.3,792.8" fill="#d6bd49" stroke="#d6bd49" stroke-width="1.0" stroke-linejoin="round"/><polygon points="1005.0,800.6 1029.6,804.9 1030.3,792.8 1005.7,788.5" fill="url(#yb)" stroke="url(#yb)" stroke-width="1.0" stroke-linejoin="round"/><polygon points="1005.7,788.5 1030.3,792.8 1035.4,783.0 1011.1,778.8" fill="#faf07e" stroke="#faf07e" stroke-width="1.0" stroke-linejoin="round"/>
<polyline points="1045.4,808.4 1070.5,812.8 1075.1,802.7" fill="none" stroke="#a8922e" stroke-width="1.8" stroke-linejoin="round" stroke-linecap="round" stroke-opacity="0.8"/><polygon points="1070.5,812.1 1075.1,802.0 1075.9,789.9 1071.3,799.9" fill="#d6bd49" stroke="#d6bd49" stroke-width="1.0" stroke-linejoin="round"/><polygon points="1045.4,807.7 1070.5,812.1 1071.3,799.9 1046.2,795.6" fill="url(#yb)" stroke="url(#yb)" stroke-width="1.0" stroke-linejoin="round"/><polygon points="1046.2,795.6 1071.3,799.9 1075.9,789.9 1051.1,785.7" fill="#faf07e" stroke="#faf07e" stroke-width="1.0" stroke-linejoin="round"/>
<polyline points="1086.7,815.7 1112.3,820.1 1116.3,809.8" fill="none" stroke="#a8922e" stroke-width="1.8" stroke-linejoin="round" stroke-linecap="round" stroke-opacity="0.8"/><polygon points="1112.3,819.4 1116.3,809.1 1117.3,797.1 1113.2,807.3" fill="#d6bd49" stroke="#d6bd49" stroke-width="1.0" stroke-linejoin="round"/><polygon points="1086.7,815.0 1112.3,819.4 1113.2,807.3 1087.6,802.8" fill="url(#yb)" stroke="url(#yb)" stroke-width="1.0" stroke-linejoin="round"/><polygon points="1087.6,802.8 1113.2,807.3 1117.3,797.1 1091.9,792.8" fill="#faf07e" stroke="#faf07e" stroke-width="1.0" stroke-linejoin="round"/>
<text transform="matrix(1.2961 -0.6101 1.5148 0.2740 124.78 672.13)" font-size="10" fill="#111" textLength="22.2" lengthAdjust="spacingAndGlyphs">1991</text>
<circle cx="162.9" cy="670.0" r="0.95" fill="#333"/>
<circle cx="189.0" cy="674.8" r="0.95" fill="#333"/>
<circle cx="215.4" cy="679.6" r="0.95" fill="#333"/>
<text transform="matrix(1.2279 -0.6505 1.6168 0.2925 230.62 691.61)" font-size="10" fill="#111" textLength="22.2" lengthAdjust="spacingAndGlyphs">1995</text>
<circle cx="269.7" cy="689.4" r="0.95" fill="#333"/>
<circle cx="297.5" cy="694.4" r="0.95" fill="#333"/>
<circle cx="325.8" cy="699.6" r="0.95" fill="#333"/>
<circle cx="354.6" cy="704.8" r="0.95" fill="#333"/>
<text transform="matrix(1.1248 -0.7068 1.7596 0.3183 373.35 717.88)" font-size="10" fill="#111" textLength="22.2" lengthAdjust="spacingAndGlyphs">2000</text>
<circle cx="413.7" cy="715.5" r="0.95" fill="#333"/>
<circle cx="444.0" cy="721.0" r="0.95" fill="#333"/>
<circle cx="474.8" cy="726.6" r="0.95" fill="#333"/>
<circle cx="506.2" cy="732.2" r="0.95" fill="#333"/>
<text transform="matrix(0.9977 -0.7709 1.9221 0.3477 529.15 746.55)" font-size="10" fill="#111" textLength="22.2" lengthAdjust="spacingAndGlyphs">2005</text>
<circle cx="570.7" cy="743.9" r="0.95" fill="#333"/>
<circle cx="603.9" cy="749.9" r="0.95" fill="#333"/>
<circle cx="637.7" cy="756.1" r="0.95" fill="#333"/>
<circle cx="672.1" cy="762.3" r="0.95" fill="#333"/>
<text transform="matrix(0.8409 -0.8443 2.1082 0.3813 699.90 777.98)" font-size="10" fill="#111" textLength="22.2" lengthAdjust="spacingAndGlyphs">2010</text>
<circle cx="742.8" cy="775.1" r="0.95" fill="#333"/>
<circle cx="779.2" cy="781.7" r="0.95" fill="#333"/>
<circle cx="816.4" cy="788.4" r="0.95" fill="#333"/>
<circle cx="854.2" cy="795.3" r="0.95" fill="#333"/>
<text transform="matrix(0.6472 -0.9288 2.3227 0.4201 887.85 812.57)" font-size="10" fill="#111" textLength="22.2" lengthAdjust="spacingAndGlyphs">2015</text>
<circle cx="932.2" cy="809.4" r="0.95" fill="#333"/>
<circle cx="972.4" cy="816.7" r="0.95" fill="#333"/>
<circle cx="1013.4" cy="824.1" r="0.95" fill="#333"/>
<circle cx="1055.2" cy="831.7" r="0.95" fill="#333"/>
<text transform="matrix(0.4074 -1.0268 2.5717 0.4652 1095.76 850.84)" font-size="10" fill="#111" textLength="22.2" lengthAdjust="spacingAndGlyphs">2020</text>
<text transform="matrix(1.2248 0.0039 -0.1044 1.2414 1211.16 104.90)" font-size="20" fill="#111" stroke="#fff" stroke-width="0.3" y="0.2">60</text>
<text transform="matrix(1.1986 0.0380 -0.1005 1.1947 1201.01 225.56)" font-size="20" fill="#111" stroke="#fff" stroke-width="0.3" y="0.2">50</text>
<text transform="matrix(1.1736 0.0696 -0.0968 1.1506 1191.24 341.72)" font-size="20" fill="#111" stroke="#fff" stroke-width="0.3" y="0.2">40</text>
<text transform="matrix(1.1495 0.0988 -0.0933 1.1089 1181.83 453.63)" font-size="20" fill="#111" stroke="#fff" stroke-width="0.3" y="0.2">30</text>
<text transform="matrix(1.1264 0.1260 -0.0899 1.0693 1172.75 561.51)" font-size="20" fill="#111" stroke="#fff" stroke-width="0.3" y="0.2">20</text>
<text transform="matrix(1.1042 0.1512 -0.0868 1.0319 1164.00 665.59)" font-size="20" fill="#111" stroke="#fff" stroke-width="0.3" y="0.2">10</text>
<text transform="matrix(1.0935 0.1631 -0.0853 1.0139 1159.74 716.26)" font-size="20" fill="#111" stroke="#fff" stroke-width="0.3" y="0.2">5</text>
<text x="146.5" y="903.8" font-size="60" fill="#0d0d0d" stroke="#ffffff" stroke-width="0.9" textLength="738" lengthAdjust="spacingAndGlyphs">Güterverkehr in Deutschland</text>
<text x="146.2" y="943.8" font-size="23.4" fill="#111111" stroke="#ffffff" stroke-width="0.25" textLength="407.5" lengthAdjust="spacing">CO<tspan font-size="13.5">2</tspan>-Äquivalente in Millionen Tonnen</text>
<rect x="146.3" y="997.6" width="9.5" height="9.5" fill="#6ab3d6"/>
<text x="161.5" y="1007.3" font-size="13.6" fill="#333" textLength="93.7" lengthAdjust="spacingAndGlyphs">Straßenverkehr</text>
<rect x="415.2" y="997.6" width="9.5" height="9.5" fill="#d1a73c"/>
<text x="430.4" y="1007.3" font-size="13.6" fill="#333" textLength="109.0" lengthAdjust="spacingAndGlyphs">Eisenbahnverkehr</text>
<rect x="713.9" y="997.6" width="9.5" height="9.5" fill="#f4e26e"/>
<text x="729.1" y="1007.3" font-size="13.6" fill="#333" textLength="128.2" lengthAdjust="spacingAndGlyphs">Binnenschiffsverkehr</text>
<rect x="1348.2" y="105.5" width="319.6" height="244" fill="#ffffff"/>
<path d="M1348.2,252.5 L1348.6,252.5 C1351.0,251.3 1354.7,248.0 1359.6,247.0 C1364.4,246.0 1365.7,252.6 1370.5,248.0 C1375.4,243.4 1376.7,233.5 1381.5,226.2 C1386.3,219.0 1387.7,219.0 1392.5,215.0 C1397.3,211.0 1398.6,211.7 1403.5,208.0 C1408.3,204.3 1409.6,201.5 1414.4,198.0 C1419.3,194.5 1420.6,195.8 1425.4,192.0 C1430.2,188.2 1431.6,183.4 1436.4,180.5 C1441.2,177.6 1442.5,179.6 1447.4,179.0 C1452.2,178.4 1453.5,178.3 1458.3,178.0 C1463.2,177.7 1464.5,177.8 1469.3,177.8 C1474.1,177.7 1475.4,177.8 1480.3,177.8 C1485.1,177.7 1486.4,174.9 1491.2,177.5 C1496.1,180.1 1497.4,186.7 1502.2,189.5 C1507.0,192.3 1508.4,191.0 1513.2,190.2 C1518.0,189.5 1519.3,188.1 1524.2,186.0 C1529.0,183.9 1530.3,179.0 1535.1,180.8 C1540.0,182.5 1541.3,192.8 1546.1,194.0 C1550.9,195.2 1552.2,189.2 1557.1,186.2 C1561.9,183.3 1563.2,181.0 1568.0,180.5 C1572.9,180.0 1574.2,184.3 1579.0,184.0 C1583.8,183.7 1585.2,180.8 1590.0,179.0 C1594.8,177.2 1596.1,177.7 1601.0,175.8 C1605.8,173.8 1607.1,172.3 1611.9,170.0 C1616.8,167.7 1618.1,167.3 1622.9,165.5 C1627.7,163.7 1629.1,163.2 1633.9,161.8 C1638.7,160.3 1640.0,160.6 1644.9,159.0 C1649.7,157.4 1651.0,152.5 1655.8,154.5 C1660.7,156.5 1664.4,165.0 1666.8,168.0 L1667.8,301.5 L1348.2,301.5 Z" fill="url(#a1)"/>
<path d="M1348.6,252.5 C1351.0,251.3 1354.7,248.0 1359.6,247.0 C1364.4,246.0 1365.7,252.6 1370.5,248.0 C1375.4,243.4 1376.7,233.5 1381.5,226.2 C1386.3,219.0 1387.7,219.0 1392.5,215.0 C1397.3,211.0 1398.6,211.7 1403.5,208.0 C1408.3,204.3 1409.6,201.5 1414.4,198.0 C1419.3,194.5 1420.6,195.8 1425.4,192.0 C1430.2,188.2 1431.6,183.4 1436.4,180.5 C1441.2,177.6 1442.5,179.6 1447.4,179.0 C1452.2,178.4 1453.5,178.3 1458.3,178.0 C1463.2,177.7 1464.5,177.8 1469.3,177.8 C1474.1,177.7 1475.4,177.8 1480.3,177.8 C1485.1,177.7 1486.4,174.9 1491.2,177.5 C1496.1,180.1 1497.4,186.7 1502.2,189.5 C1507.0,192.3 1508.4,191.0 1513.2,190.2 C1518.0,189.5 1519.3,188.1 1524.2,186.0 C1529.0,183.9 1530.3,179.0 1535.1,180.8 C1540.0,182.5 1541.3,192.8 1546.1,194.0 C1550.9,195.2 1552.2,189.2 1557.1,186.2 C1561.9,183.3 1563.2,181.0 1568.0,180.5 C1572.9,180.0 1574.2,184.3 1579.0,184.0 C1583.8,183.7 1585.2,180.8 1590.0,179.0 C1594.8,177.2 1596.1,177.7 1601.0,175.8 C1605.8,173.8 1607.1,172.3 1611.9,170.0 C1616.8,167.7 1618.1,167.3 1622.9,165.5 C1627.7,163.7 1629.1,163.2 1633.9,161.8 C1638.7,160.3 1640.0,160.6 1644.9,159.0 C1649.7,157.4 1651.0,152.5 1655.8,154.5 C1660.7,156.5 1664.4,165.0 1666.8,168.0" fill="none" stroke="#5faed6" stroke-width="2.3" stroke-linecap="round" stroke-linejoin="round"/>
<circle cx="1348.6" cy="252.5" r="2.6" fill="#5faed6"/><circle cx="1666.8" cy="168.0" r="2.6" fill="#5faed6"/>
<g font-size="14" fill="#1f1f1f"><text x="1359.8" y="304.0">1991</text><text x="1359.8" y="322.5" textLength="73.7" lengthAdjust="spacing">38.67 Mio t</text><text x="1659" y="304.0" text-anchor="end">2020</text><text x="1585.3" y="322.5" textLength="73.7" lengthAdjust="spacing">56.67 Mio t</text></g>
<rect x="1348.2" y="355.0" width="319.6" height="244" fill="#ffffff"/>
<path d="M1348.2,415.0 L1348.6,415.0 C1351.0,417.8 1354.7,422.8 1359.6,427.5 C1364.4,432.2 1365.7,429.1 1370.5,436.2 C1375.4,443.4 1376.7,455.0 1381.5,460.0 C1386.3,465.0 1387.7,459.4 1392.5,459.0 C1397.3,458.6 1398.6,457.9 1403.5,458.0 C1408.3,458.1 1409.6,456.9 1414.4,459.5 C1419.3,462.1 1420.6,467.8 1425.4,470.0 C1430.2,472.2 1431.6,468.6 1436.4,469.5 C1441.2,470.4 1442.5,476.2 1447.4,474.2 C1452.2,472.3 1453.5,460.9 1458.3,460.5 C1463.2,460.1 1464.5,470.5 1469.3,472.5 C1474.1,474.5 1475.4,469.8 1480.3,469.5 C1485.1,469.2 1486.4,470.5 1491.2,471.2 C1496.1,472.0 1497.4,472.5 1502.2,472.8 C1507.0,473.0 1508.4,471.7 1513.2,472.5 C1518.0,473.3 1519.3,475.1 1524.2,476.5 C1529.0,477.9 1530.3,475.8 1535.1,478.8 C1540.0,481.7 1541.3,488.5 1546.1,490.0 C1550.9,491.5 1552.2,486.2 1557.1,485.8 C1561.9,485.3 1563.2,487.2 1568.0,488.0 C1572.9,488.8 1574.2,489.1 1579.0,489.5 C1583.8,489.9 1585.2,488.2 1590.0,490.0 C1594.8,491.8 1596.1,495.6 1601.0,497.5 C1605.8,499.4 1607.1,498.4 1611.9,498.5 C1616.8,498.6 1618.1,498.5 1622.9,498.0 C1627.7,497.5 1629.1,495.4 1633.9,496.2 C1638.7,497.1 1640.0,500.3 1644.9,501.8 C1649.7,503.2 1651.0,501.9 1655.8,502.8 C1660.7,503.6 1664.4,505.1 1666.8,505.8 L1667.8,551.0 L1348.2,551.0 Z" fill="url(#a2)"/>
<path d="M1348.6,415.0 C1351.0,417.8 1354.7,422.8 1359.6,427.5 C1364.4,432.2 1365.7,429.1 1370.5,436.2 C1375.4,443.4 1376.7,455.0 1381.5,460.0 C1386.3,465.0 1387.7,459.4 1392.5,459.0 C1397.3,458.6 1398.6,457.9 1403.5,458.0 C1408.3,458.1 1409.6,456.9 1414.4,459.5 C1419.3,462.1 1420.6,467.8 1425.4,470.0 C1430.2,472.2 1431.6,468.6 1436.4,469.5 C1441.2,470.4 1442.5,476.2 1447.4,474.2 C1452.2,472.3 1453.5,460.9 1458.3,460.5 C1463.2,460.1 1464.5,470.5 1469.3,472.5 C1474.1,474.5 1475.4,469.8 1480.3,469.5 C1485.1,469.2 1486.4,470.5 1491.2,471.2 C1496.1,472.0 1497.4,472.5 1502.2,472.8 C1507.0,473.0 1508.4,471.7 1513.2,472.5 C1518.0,473.3 1519.3,475.1 1524.2,476.5 C1529.0,477.9 1530.3,475.8 1535.1,478.8 C1540.0,481.7 1541.3,488.5 1546.1,490.0 C1550.9,491.5 1552.2,486.2 1557.1,485.8 C1561.9,485.3 1563.2,487.2 1568.0,488.0 C1572.9,488.8 1574.2,489.1 1579.0,489.5 C1583.8,489.9 1585.2,488.2 1590.0,490.0 C1594.8,491.8 1596.1,495.6 1601.0,497.5 C1605.8,499.4 1607.1,498.4 1611.9,498.5 C1616.8,498.6 1618.1,498.5 1622.9,498.0 C1627.7,497.5 1629.1,495.4 1633.9,496.2 C1638.7,497.1 1640.0,500.3 1644.9,501.8 C1649.7,503.2 1651.0,501.9 1655.8,502.8 C1660.7,503.6 1664.4,505.1 1666.8,505.8" fill="none" stroke="#c9a538" stroke-width="2.3" stroke-linecap="round" stroke-linejoin="round"/>
<circle cx="1348.6" cy="415.0" r="2.6" fill="#c9a538"/><circle cx="1666.8" cy="505.8" r="2.6" fill="#c9a538"/>
<g font-size="14" fill="#1f1f1f"><text x="1359.8" y="553.5">1991</text><text x="1359.8" y="572.0" textLength="67.0" lengthAdjust="spacing">0.98 Mio t</text><text x="1659" y="553.5" text-anchor="end">2020</text><text x="1592.0" y="572.0" textLength="67.0" lengthAdjust="spacing">0.15 Mio t</text></g>
<rect x="1348.2" y="602.7" width="319.6" height="244" fill="#ffffff"/>
<path d="M1348.2,677.5 L1348.6,677.5 C1351.0,676.5 1354.7,674.4 1359.6,673.0 C1364.4,671.6 1365.7,675.2 1370.5,671.2 C1375.4,667.3 1376.7,659.7 1381.5,655.0 C1386.3,650.3 1387.7,648.5 1392.5,650.0 C1397.3,651.5 1398.6,659.6 1403.5,662.0 C1408.3,664.4 1409.6,662.0 1414.4,660.8 C1419.3,659.5 1420.6,655.6 1425.4,656.2 C1430.2,656.9 1431.6,664.6 1436.4,663.8 C1441.2,662.9 1442.5,653.0 1447.4,652.5 C1452.2,652.0 1453.5,658.0 1458.3,661.2 C1463.2,664.5 1464.5,660.6 1469.3,667.5 C1474.1,674.4 1475.4,690.6 1480.3,692.5 C1485.1,694.4 1486.4,679.7 1491.2,676.2 C1496.1,672.8 1497.4,676.1 1502.2,677.0 C1507.0,677.9 1508.4,679.5 1513.2,680.5 C1518.0,681.5 1519.3,680.5 1524.2,681.8 C1529.0,683.0 1530.3,677.9 1535.1,686.2 C1540.0,694.6 1541.3,716.2 1546.1,719.5 C1550.9,722.8 1552.2,703.9 1557.1,701.2 C1561.9,698.6 1563.2,704.2 1568.0,707.5 C1572.9,710.8 1574.2,714.5 1579.0,716.2 C1583.8,718.0 1585.2,715.8 1590.0,715.5 C1594.8,715.2 1596.1,714.3 1601.0,715.0 C1605.8,715.7 1607.1,715.7 1611.9,718.8 C1616.8,721.8 1618.1,728.1 1622.9,728.8 C1627.7,729.4 1629.1,718.7 1633.9,721.8 C1638.7,724.8 1640.0,737.5 1644.9,742.5 C1649.7,747.5 1651.0,742.5 1655.8,744.2 C1660.7,746.0 1664.4,749.1 1666.8,750.5 L1667.8,798.7 L1348.2,798.7 Z" fill="url(#a3)"/>
<path d="M1348.6,677.5 C1351.0,676.5 1354.7,674.4 1359.6,673.0 C1364.4,671.6 1365.7,675.2 1370.5,671.2 C1375.4,667.3 1376.7,659.7 1381.5,655.0 C1386.3,650.3 1387.7,648.5 1392.5,650.0 C1397.3,651.5 1398.6,659.6 1403.5,662.0 C1408.3,664.4 1409.6,662.0 1414.4,660.8 C1419.3,659.5 1420.6,655.6 1425.4,656.2 C1430.2,656.9 1431.6,664.6 1436.4,663.8 C1441.2,662.9 1442.5,653.0 1447.4,652.5 C1452.2,652.0 1453.5,658.0 1458.3,661.2 C1463.2,664.5 1464.5,660.6 1469.3,667.5 C1474.1,674.4 1475.4,690.6 1480.3,692.5 C1485.1,694.4 1486.4,679.7 1491.2,676.2 C1496.1,672.8 1497.4,676.1 1502.2,677.0 C1507.0,677.9 1508.4,679.5 1513.2,680.5 C1518.0,681.5 1519.3,680.5 1524.2,681.8 C1529.0,683.0 1530.3,677.9 1535.1,686.2 C1540.0,694.6 1541.3,716.2 1546.1,719.5 C1550.9,722.8 1552.2,703.9 1557.1,701.2 C1561.9,698.6 1563.2,704.2 1568.0,707.5 C1572.9,710.8 1574.2,714.5 1579.0,716.2 C1583.8,718.0 1585.2,715.8 1590.0,715.5 C1594.8,715.2 1596.1,714.3 1601.0,715.0 C1605.8,715.7 1607.1,715.7 1611.9,718.8 C1616.8,721.8 1618.1,728.1 1622.9,728.8 C1627.7,729.4 1629.1,718.7 1633.9,721.8 C1638.7,724.8 1640.0,737.5 1644.9,742.5 C1649.7,747.5 1651.0,742.5 1655.8,744.2 C1660.7,746.0 1664.4,749.1 1666.8,750.5" fill="none" stroke="#f6e36e" stroke-width="2.3" stroke-linecap="round" stroke-linejoin="round"/>
<circle cx="1348.6" cy="677.5" r="2.6" fill="#f6e36e"/><circle cx="1666.8" cy="750.5" r="2.6" fill="#f6e36e"/>
<g font-size="14" fill="#1f1f1f"><text x="1359.8" y="801.2">1991</text><text x="1359.8" y="819.7" textLength="67.0" lengthAdjust="spacing">1.77 Mio t</text><text x="1659" y="801.2" text-anchor="end">2020</text><text x="1592.0" y="819.7" textLength="67.0" lengthAdjust="spacing">1.19 Mio t</text></g>
</svg>
</body></html>
